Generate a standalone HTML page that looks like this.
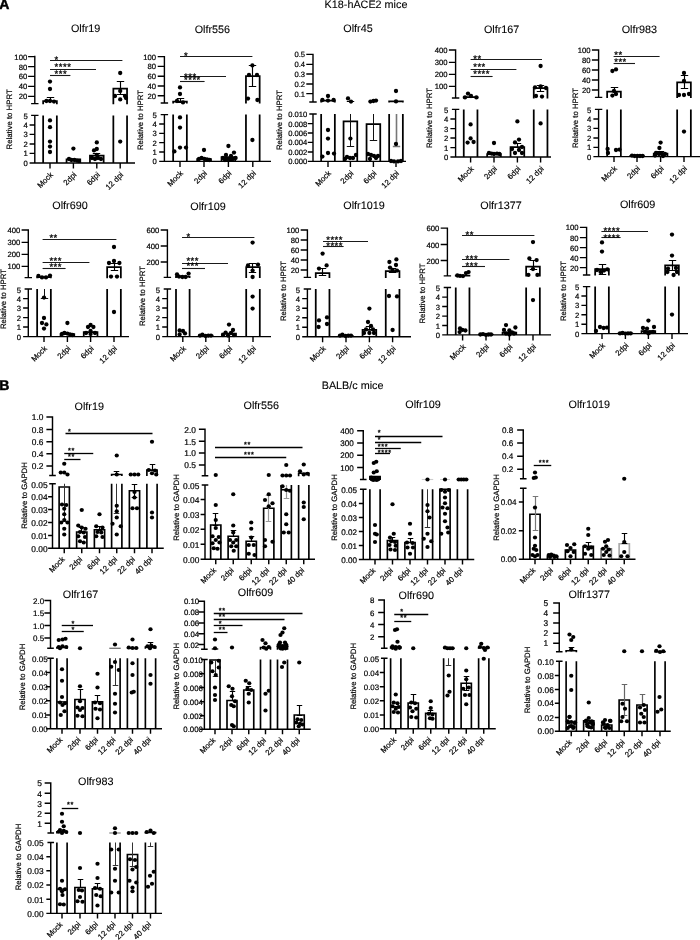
<!DOCTYPE html>
<html lang="en"><head><meta charset="utf-8"><title>Figure</title>
<style>
html,body{margin:0;padding:0;background:#fff;}
body{width:700px;height:940px;overflow:hidden;}
svg{display:block;font-family:"Liberation Sans",sans-serif;}
text{fill:#000;stroke:#000;stroke-width:0.2px;text-rendering:geometricPrecision}
.ax{stroke:#000;stroke-width:1.4;fill:none;stroke-linecap:butt}
.bar{stroke:#000;stroke-width:1.75;fill:none}
.err{stroke:#000;stroke-width:1.15;fill:none}
.err2{stroke:#111;stroke-width:1;fill:none}
.b .err2{stroke:#333;stroke-width:1}
.b .sig{stroke:#000;stroke-width:1.3}
.sig{stroke:#1a1a1a;stroke-width:1.1;fill:none}
.dot{fill:#000}
.tl{font-size:7.7px;text-anchor:end}
.b .tl{font-size:8.5px}
.b .bar{stroke-width:1.65}
.b .ax{stroke-width:1.45}
.xl{font-size:7.8px;text-anchor:end}
.yl{font-size:7.8px;text-anchor:middle}
.ti{font-size:10.8px;text-anchor:middle;stroke-width:0.1px}
.st{text-anchor:start;stroke-width:0.25px}
.b .st{stroke-width:0.3px}
.hd{font-size:10.8px;text-anchor:middle;stroke-width:0.1px}
.pl{font-size:14px;font-weight:bold;stroke:#000;stroke-width:0.5px}
</style></head><body>
<svg width="700" height="940" viewBox="0 0 700 940">
<rect width="700" height="940" fill="#fff"/>
<text class="pl" x="-0.8" y="9">A</text>
<text class="pl" x="-0.7" y="389.6">B</text>
<text class="hd" x="366" y="8.3">K18-hACE2 mice</text>
<text class="hd" x="352.6" y="388.8">BALB/c mice</text>
<g id="A1" class="a">
<text class="ti" x="85.6" y="32.4">Olfr19</text>
<text class="yl" transform="translate(9.6 119.4) rotate(-90)" y="2.8">Relative to HPRT</text>
<path class="bar" d="M43.15 163 V115.4 M56.85 163 V115.4"/>
<path class="bar" d="M43.15 104.2 V101 H56.85 V104.2"/>
<path class="bar" d="M66.55 163 V159.4 H80.25 V163"/>
<path class="bar" d="M89.95 163 V155.6 H103.65 V163"/>
<path class="bar" d="M113.35 163 V115.4 M127.05 163 V115.4"/>
<path class="bar" d="M113.35 104.2 V88.6 H127.05 V104.2"/>
<path class="err" d="M50.5 97 V101 M46.8 97.5 H54.2 M46.8 101.5 H54.2"/>
<path class="err" d="M96.5 153 V155 M92.8 153.5 H100.2 M92.8 155.5 H100.2"/>
<path class="err" d="M120.5 81.6 V94 M116.8 81.5 H124.2 M116.8 94.5 H124.2"/>
<path class="ax" d="M34.8 55.75 V103.6 M34.8 115.4 V163 M28.1 56.6 H34.8 M28.1 66.6 H34.8 M28.1 76.4 H34.8 M28.1 86.4 H34.8 M28.1 96.4 H34.8 M29.6 125 H34.8 M29.6 134.4 H34.8 M29.6 144 H34.8 M29.6 153.4 H34.8 M29.6 163 H34.8 M31.1 103.6 H38.5 M31.1 115.4 H38.5 M29.6 163 H135 M50 163 V168.5 M73.4 163 V168.5 M96.8 163 V168.5 M120.2 163 V168.5"/>
<text class="tl" style="font-size:7.7px" x="27.2" y="59.6">100</text>
<text class="tl" style="font-size:7.7px" x="27.2" y="69.6">80</text>
<text class="tl" style="font-size:7.7px" x="27.2" y="79.4">60</text>
<text class="tl" style="font-size:7.7px" x="27.2" y="89.4">40</text>
<text class="tl" style="font-size:7.7px" x="27.2" y="99.4">20</text>
<text class="tl" style="font-size:7.7px" x="27.7" y="119">5</text>
<text class="tl" style="font-size:7.7px" x="27.7" y="128">4</text>
<text class="tl" style="font-size:7.7px" x="27.7" y="137.4">3</text>
<text class="tl" style="font-size:7.7px" x="27.7" y="147">2</text>
<text class="tl" style="font-size:7.7px" x="27.7" y="156.4">1</text>
<text class="tl" style="font-size:7.7px" x="27.7" y="166">0</text>
<text class="xl" transform="translate(53.6 175.3) rotate(-45)">Mock</text>
<text class="xl" transform="translate(77 175.3) rotate(-45)">2dpi</text>
<text class="xl" transform="translate(100.4 175.3) rotate(-45)">6dpi</text>
<text class="xl" transform="translate(123.8 175.3) rotate(-45)">12 dpi</text>
<path class="sig" d="M50 60.5 H122.4"/>
<text class="st" style="font-size:9.5px;letter-spacing:0.5px" x="54.59" y="62.74">*</text>
<path class="sig" d="M50 69.5 H96"/>
<text class="st" style="font-size:9.5px;letter-spacing:0.5px" x="54.59" y="69.94">****</text>
<path class="sig" d="M50 75.5 H70.4"/>
<text class="st" style="font-size:9.5px;letter-spacing:0.5px" x="54.59" y="76.94">***</text>
<circle class="dot" cx="50" cy="81.6" r="2.15"/>
<circle class="dot" cx="50" cy="89" r="2.15"/>
<circle class="dot" cx="46.4" cy="101" r="2.15"/>
<circle class="dot" cx="50" cy="101" r="2.15"/>
<circle class="dot" cx="54" cy="101.6" r="2.15"/>
<circle class="dot" cx="50" cy="120.4" r="2.15"/>
<circle class="dot" cx="50" cy="127.2" r="2.15"/>
<circle class="dot" cx="50" cy="141.6" r="2.15"/>
<circle class="dot" cx="50" cy="146.6" r="2.15"/>
<circle class="dot" cx="50" cy="152" r="2.15"/>
<circle class="dot" cx="73.4" cy="148.6" r="2.15"/>
<circle class="dot" cx="69" cy="159" r="2.15"/>
<circle class="dot" cx="71.4" cy="160" r="2.15"/>
<circle class="dot" cx="74.4" cy="160" r="2.15"/>
<circle class="dot" cx="77" cy="160.6" r="2.15"/>
<circle class="dot" cx="79" cy="161" r="2.15"/>
<circle class="dot" cx="96.8" cy="142.4" r="2.15"/>
<circle class="dot" cx="96.8" cy="149" r="2.15"/>
<circle class="dot" cx="94" cy="150.4" r="2.15"/>
<circle class="dot" cx="92" cy="158" r="2.15"/>
<circle class="dot" cx="95" cy="159" r="2.15"/>
<circle class="dot" cx="98" cy="158" r="2.15"/>
<circle class="dot" cx="101" cy="159" r="2.15"/>
<circle class="dot" cx="96.8" cy="155" r="2.15"/>
<circle class="dot" cx="120.2" cy="73" r="2.15"/>
<circle class="dot" cx="120.2" cy="91" r="2.15"/>
<circle class="dot" cx="115" cy="96" r="2.15"/>
<circle class="dot" cx="125" cy="96" r="2.15"/>
<circle class="dot" cx="120.2" cy="99.4" r="2.15"/>
<circle class="dot" cx="126" cy="98" r="2.15"/>
<circle class="dot" cx="120.2" cy="141.6" r="2.15"/>
</g>
<g id="A2" class="a">
<text class="ti" x="212.4" y="33">Olfr556</text>
<text class="yl" transform="translate(140.2 120) rotate(-90)" y="2.8">Relative to HPRT</text>
<path class="bar" d="M173.15 161.4 V114.6 M186.85 161.4 V114.6"/>
<path class="bar" d="M173.15 103.6 V101.6 H186.85 V103.6"/>
<path class="bar" d="M197.15 161.4 V159 H210.85 V161.4"/>
<path class="bar" d="M221.55 161.4 V157 H235.25 V161.4"/>
<path class="bar" d="M245.95 161.4 V114.6 M259.65 161.4 V114.6"/>
<path class="bar" d="M245.95 103.6 V76 H259.65 V103.6"/>
<path class="err" d="M180.5 98.6 V102 M176.8 98.5 H184.2 M176.8 102.5 H184.2"/>
<path class="err" d="M252.5 65.4 V86.4 M248.8 65.5 H256.2 M248.8 86.5 H256.2"/>
<path class="ax" d="M164.4 55.95 V103 M164.4 114.6 V161.4 M157.7 56.6 H164.4 M157.7 66.4 H164.4 M157.7 76.2 H164.4 M157.7 86 H164.4 M157.7 95.8 H164.4 M159.2 124 H164.4 M159.2 133.4 H164.4 M159.2 142.6 H164.4 M159.2 152 H164.4 M159.2 161.4 H164.4 M160.7 103 H168.1 M160.7 114.6 H168.1 M159.2 161.4 H271 M180 161.4 V166.9 M204 161.4 V166.9 M228.4 161.4 V166.9 M252.8 161.4 V166.9"/>
<text class="tl" style="font-size:7.7px" x="156" y="59.6">100</text>
<text class="tl" style="font-size:7.7px" x="156" y="69.4">80</text>
<text class="tl" style="font-size:7.7px" x="156" y="79.2">60</text>
<text class="tl" style="font-size:7.7px" x="156" y="89">40</text>
<text class="tl" style="font-size:7.7px" x="156" y="98.8">20</text>
<text class="tl" style="font-size:7.7px" x="156.8" y="118.2">5</text>
<text class="tl" style="font-size:7.7px" x="156.8" y="127">4</text>
<text class="tl" style="font-size:7.7px" x="156.8" y="136.4">3</text>
<text class="tl" style="font-size:7.7px" x="156.8" y="145.6">2</text>
<text class="tl" style="font-size:7.7px" x="156.8" y="155">1</text>
<text class="tl" style="font-size:7.7px" x="156.8" y="164.4">0</text>
<text class="xl" transform="translate(183.6 173.7) rotate(-45)">Mock</text>
<text class="xl" transform="translate(207.6 173.7) rotate(-45)">2dpi</text>
<text class="xl" transform="translate(232 173.7) rotate(-45)">6dpi</text>
<text class="xl" transform="translate(256.4 173.7) rotate(-45)">12 dpi</text>
<path class="sig" d="M180 56.5 H252.4"/>
<text class="st" style="font-size:9.5px;letter-spacing:0.5px" x="184" y="58.54">*</text>
<path class="sig" d="M180 76.5 H226"/>
<text class="st" style="font-size:9.5px;letter-spacing:0.5px" x="184" y="80.04">***</text>
<path class="sig" d="M180 81.5 H204.6"/>
<text class="st" style="font-size:9.5px;letter-spacing:0.5px" x="184" y="83.34">****</text>
<circle class="dot" cx="180" cy="87.4" r="2.15"/>
<circle class="dot" cx="180" cy="94" r="2.15"/>
<circle class="dot" cx="177" cy="101" r="2.15"/>
<circle class="dot" cx="183" cy="102.4" r="2.15"/>
<circle class="dot" cx="180" cy="117.4" r="2.15"/>
<circle class="dot" cx="180" cy="127.6" r="2.15"/>
<circle class="dot" cx="174.4" cy="151.4" r="2.15"/>
<circle class="dot" cx="180" cy="147.6" r="2.15"/>
<circle class="dot" cx="186" cy="147.6" r="2.15"/>
<circle class="dot" cx="204" cy="150" r="2.15"/>
<circle class="dot" cx="199" cy="159" r="2.15"/>
<circle class="dot" cx="201.6" cy="158" r="2.15"/>
<circle class="dot" cx="204.4" cy="159" r="2.15"/>
<circle class="dot" cx="207" cy="159.4" r="2.15"/>
<circle class="dot" cx="209.6" cy="160" r="2.15"/>
<circle class="dot" cx="228.4" cy="146" r="2.15"/>
<circle class="dot" cx="234" cy="152.6" r="2.15"/>
<circle class="dot" cx="226" cy="155" r="2.15"/>
<circle class="dot" cx="231" cy="156" r="2.15"/>
<circle class="dot" cx="223" cy="158" r="2.15"/>
<circle class="dot" cx="228" cy="159" r="2.15"/>
<circle class="dot" cx="233" cy="159" r="2.15"/>
<circle class="dot" cx="225" cy="160" r="2.15"/>
<circle class="dot" cx="230.6" cy="159.6" r="2.15"/>
<circle class="dot" cx="235.6" cy="158" r="2.15"/>
<circle class="dot" cx="252.4" cy="65.4" r="2.15"/>
<circle class="dot" cx="249" cy="75" r="2.15"/>
<circle class="dot" cx="257" cy="75" r="2.15"/>
<circle class="dot" cx="248" cy="98.6" r="2.15"/>
<circle class="dot" cx="257.4" cy="100" r="2.15"/>
<circle class="dot" cx="252.4" cy="140" r="2.15"/>
</g>
<g id="A3" class="a">
<text class="ti" x="358" y="32.4">Olfr45</text>
<text class="yl" transform="translate(279.6 120) rotate(-90)" y="2.8">Relative to HPRT</text>
<path class="bar" d="M321.15 161.4 V114 M334.85 161.4 V114"/>
<path class="bar" d="M321.15 102.6 V100.6 H334.85 V102.6"/>
<path class="bar" d="M343.55 161.4 V121.4 H357.25 V161.4"/>
<path class="bar" d="M366.55 161.4 V124 H380.25 V161.4"/>
<path class="bar" d="M389.15 161.4 V114 M402.85 161.4 V114"/>
<path class="bar" d="M389.15 102.6 V101.4 H402.85 V102.6"/>
<path class="err2" d="M350.5 114 V146.4 M346.8 146.5 H354.2"/>
<path class="err2" d="M373.5 114 V140.6 M369.8 140.5 H377.2"/>
<path class="err2" style="stroke:#777;stroke-width:1.6" d="M396.5 114 V146.4 M392.8 146.5 H400.2"/>
<path class="err" d="M350.5 101 V102 M346.8 101.5 H354.2"/>
<path class="ax" d="M313 53.75 V102 M313 114 V161.4 M306.3 54.4 H313 M306.3 64.4 H313 M306.3 74 H313 M306.3 84 H313 M306.3 93.6 H313 M307.8 123.6 H313 M307.8 133 H313 M307.8 142.4 H313 M307.8 152 H313 M307.8 161.4 H313 M309.3 102 H316.7 M309.3 114 H316.7 M307.8 161.4 H406 M328 161.4 V166.9 M350.4 161.4 V166.9 M373.4 161.4 V166.9 M396 161.4 V166.9"/>
<text class="tl" style="font-size:7.6px" x="305" y="57.36">0.5</text>
<text class="tl" style="font-size:7.6px" x="305" y="67.36">0.4</text>
<text class="tl" style="font-size:7.6px" x="305" y="76.96">0.3</text>
<text class="tl" style="font-size:7.6px" x="305" y="86.96">0.2</text>
<text class="tl" style="font-size:7.6px" x="305" y="96.56">0.1</text>
<text class="tl" style="font-size:7.6px" x="307.2" y="116.76">0.010</text>
<text class="tl" style="font-size:7.6px" x="307.2" y="126.56">0.008</text>
<text class="tl" style="font-size:7.6px" x="307.2" y="135.96">0.006</text>
<text class="tl" style="font-size:7.6px" x="307.2" y="145.36">0.004</text>
<text class="tl" style="font-size:7.6px" x="307.2" y="154.96">0.002</text>
<text class="tl" style="font-size:7.6px" x="307.2" y="164.36">0.000</text>
<text class="xl" transform="translate(331.6 173.7) rotate(-45)">Mock</text>
<text class="xl" transform="translate(354 173.7) rotate(-45)">2dpi</text>
<text class="xl" transform="translate(377 173.7) rotate(-45)">6dpi</text>
<text class="xl" transform="translate(399.6 173.7) rotate(-45)">12 dpi</text>
<circle class="dot" cx="328" cy="96" r="2.15"/>
<circle class="dot" cx="322.4" cy="100" r="2.15"/>
<circle class="dot" cx="328" cy="100.6" r="2.15"/>
<circle class="dot" cx="333.6" cy="100" r="2.15"/>
<circle class="dot" cx="328" cy="130" r="2.15"/>
<circle class="dot" cx="328" cy="138.6" r="2.15"/>
<circle class="dot" cx="328" cy="153" r="2.15"/>
<circle class="dot" cx="322.4" cy="156.6" r="2.15"/>
<circle class="dot" cx="334" cy="153.6" r="2.15"/>
<circle class="dot" cx="348" cy="98.4" r="2.15"/>
<circle class="dot" cx="351" cy="101.6" r="2.15"/>
<circle class="dot" cx="350.4" cy="138.6" r="2.15"/>
<circle class="dot" cx="347" cy="157" r="2.15"/>
<circle class="dot" cx="350" cy="158" r="2.15"/>
<circle class="dot" cx="353" cy="158" r="2.15"/>
<circle class="dot" cx="356" cy="155" r="2.15"/>
<circle class="dot" cx="345" cy="159" r="2.15"/>
<circle class="dot" cx="370.4" cy="101.6" r="2.15"/>
<circle class="dot" cx="373.4" cy="101" r="2.15"/>
<circle class="dot" cx="376" cy="100.6" r="2.15"/>
<circle class="dot" cx="368" cy="154" r="2.15"/>
<circle class="dot" cx="371" cy="155" r="2.15"/>
<circle class="dot" cx="374" cy="156" r="2.15"/>
<circle class="dot" cx="378" cy="156" r="2.15"/>
<circle class="dot" cx="376" cy="158" r="2.15"/>
<circle class="dot" cx="370" cy="159" r="2.15"/>
<circle class="dot" cx="396" cy="91" r="2.15"/>
<circle class="dot" cx="396" cy="101.4" r="2.15"/>
<circle class="dot" cx="396" cy="144" r="2.15"/>
<circle class="dot" cx="391" cy="161" r="2.15"/>
<circle class="dot" cx="394" cy="161.4" r="2.15"/>
<circle class="dot" cx="398" cy="161.4" r="2.15"/>
<circle class="dot" cx="401" cy="161" r="2.15"/>
</g>
<g id="A4" class="a">
<text class="ti" x="501.6" y="33">Olfr167</text>
<text class="yl" transform="translate(429 118) rotate(-90)" y="2.8">Relative to HPRT</text>
<path class="bar" d="M463.75 157 V109.4 M477.45 157 V109.4"/>
<path class="bar" d="M463.75 98.6 V97 H477.45 V98.6"/>
<path class="bar" d="M487.15 157 V154 H500.85 V157"/>
<path class="bar" d="M510.55 157 V147 H524.25 V157"/>
<path class="bar" d="M533.75 157 V109.4 M547.45 157 V109.4"/>
<path class="bar" d="M533.75 98.6 V88 H547.45 V98.6"/>
<path class="err" d="M517.5 143 V147 M513.8 143.5 H521.2 M513.8 147.5 H521.2"/>
<path class="err" d="M540.5 85 V91 M536.8 85.5 H544.2 M536.8 91.5 H544.2"/>
<path class="ax" d="M455.6 49.35 V98 M455.6 109.4 V157 M448.9 50 H455.6 M448.9 62.4 H455.6 M448.9 74.4 H455.6 M448.9 86.4 H455.6 M450.4 119 H455.6 M450.4 128.6 H455.6 M450.4 138 H455.6 M450.4 147.6 H455.6 M450.4 157 H455.6 M451.9 98 H459.3 M451.9 109.4 H459.3 M450.4 157 H551 M470.6 157 V162.5 M494 157 V162.5 M517.4 157 V162.5 M540.6 157 V162.5"/>
<text class="tl" style="font-size:7.7px" x="447.6" y="53">400</text>
<text class="tl" style="font-size:7.7px" x="447.6" y="65.4">300</text>
<text class="tl" style="font-size:7.7px" x="447.6" y="77.4">200</text>
<text class="tl" style="font-size:7.7px" x="447.6" y="89.4">100</text>
<text class="tl" style="font-size:7.7px" x="448.3" y="113">5</text>
<text class="tl" style="font-size:7.7px" x="448.3" y="122">4</text>
<text class="tl" style="font-size:7.7px" x="448.3" y="131.6">3</text>
<text class="tl" style="font-size:7.7px" x="448.3" y="141">2</text>
<text class="tl" style="font-size:7.7px" x="448.3" y="150.6">1</text>
<text class="tl" style="font-size:7.7px" x="448.3" y="160">0</text>
<text class="xl" transform="translate(474.2 169.3) rotate(-45)">Mock</text>
<text class="xl" transform="translate(497.6 169.3) rotate(-45)">2dpi</text>
<text class="xl" transform="translate(521 169.3) rotate(-45)">6dpi</text>
<text class="xl" transform="translate(544.2 169.3) rotate(-45)">12 dpi</text>
<path class="sig" d="M470.6 59.5 H542"/>
<text class="st" style="font-size:9.5px;letter-spacing:0.5px" x="473.19" y="61.74">**</text>
<path class="sig" d="M470.6 69.5 H516.4"/>
<text class="st" style="font-size:9.5px;letter-spacing:0.5px" x="473.19" y="69.74">***</text>
<path class="sig" d="M470.6 76.5 H492.6"/>
<text class="st" style="font-size:9.5px;letter-spacing:0.5px" x="473.19" y="76.54">****</text>
<circle class="dot" cx="468" cy="93.6" r="2.15"/>
<circle class="dot" cx="465" cy="97.4" r="2.15"/>
<circle class="dot" cx="471" cy="96" r="2.15"/>
<circle class="dot" cx="476.4" cy="97.4" r="2.15"/>
<circle class="dot" cx="470.6" cy="124.4" r="2.15"/>
<circle class="dot" cx="470.6" cy="138.4" r="2.15"/>
<circle class="dot" cx="467.6" cy="142.6" r="2.15"/>
<circle class="dot" cx="473.6" cy="142" r="2.15"/>
<circle class="dot" cx="494" cy="143" r="2.15"/>
<circle class="dot" cx="489" cy="153" r="2.15"/>
<circle class="dot" cx="491.6" cy="153.6" r="2.15"/>
<circle class="dot" cx="494" cy="154" r="2.15"/>
<circle class="dot" cx="497" cy="153.6" r="2.15"/>
<circle class="dot" cx="499.4" cy="154" r="2.15"/>
<circle class="dot" cx="517.4" cy="121.4" r="2.15"/>
<circle class="dot" cx="519" cy="139.6" r="2.15"/>
<circle class="dot" cx="515" cy="142.4" r="2.15"/>
<circle class="dot" cx="522" cy="147" r="2.15"/>
<circle class="dot" cx="512" cy="149" r="2.15"/>
<circle class="dot" cx="519" cy="150" r="2.15"/>
<circle class="dot" cx="515" cy="153" r="2.15"/>
<circle class="dot" cx="522" cy="153" r="2.15"/>
<circle class="dot" cx="540.6" cy="66" r="2.15"/>
<circle class="dot" cx="535" cy="87.4" r="2.15"/>
<circle class="dot" cx="540.6" cy="86.4" r="2.15"/>
<circle class="dot" cx="546" cy="88" r="2.15"/>
<circle class="dot" cx="536" cy="96" r="2.15"/>
<circle class="dot" cx="542" cy="96.6" r="2.15"/>
<circle class="dot" cx="540.6" cy="123.4" r="2.15"/>
</g>
<g id="A5" class="a">
<text class="ti" x="639.4" y="33">Olfr983</text>
<text class="yl" transform="translate(575 118) rotate(-90)" y="2.8">Relative to HPRT</text>
<path class="bar" d="M607.15 156.6 V109.4 M620.85 156.6 V109.4"/>
<path class="bar" d="M607.15 98 V91.6 H620.85 V98"/>
<path class="bar" d="M630.15 156.6 V156 H643.85 V156.6"/>
<path class="bar" d="M653.75 156.6 V153.6 H667.45 V156.6"/>
<path class="bar" d="M677.15 156.6 V109.4 M690.85 156.6 V109.4"/>
<path class="bar" d="M677.15 98 V82.4 H690.85 V98"/>
<path class="err" d="M614.5 87 V91.6 M610.8 87.5 H618.2 M610.8 91.5 H618.2"/>
<path class="err" d="M660.5 151 V153.6 M656.8 151.5 H664.2 M656.8 153.5 H664.2"/>
<path class="err" d="M684.5 75.4 V88 M680.8 75.5 H688.2 M680.8 88.5 H688.2"/>
<path class="ax" d="M598.6 49.35 V97.4 M598.6 109.4 V156.6 M591.9 50 H598.6 M591.9 60 H598.6 M591.9 70 H598.6 M591.9 80 H598.6 M591.9 90 H598.6 M593.4 119 H598.6 M593.4 128.4 H598.6 M593.4 138 H598.6 M593.4 147.4 H598.6 M593.4 156.6 H598.6 M594.9 97.4 H602.3 M594.9 109.4 H602.3 M593.4 156.6 H701 M614 156.6 V162.1 M637 156.6 V162.1 M660.6 156.6 V162.1 M684 156.6 V162.1"/>
<text class="tl" style="font-size:7.7px" x="590.6" y="53">100</text>
<text class="tl" style="font-size:7.7px" x="590.6" y="63">80</text>
<text class="tl" style="font-size:7.7px" x="590.6" y="73">60</text>
<text class="tl" style="font-size:7.7px" x="590.6" y="83">40</text>
<text class="tl" style="font-size:7.7px" x="590.6" y="93">20</text>
<text class="tl" style="font-size:7.7px" x="591.3" y="113">5</text>
<text class="tl" style="font-size:7.7px" x="591.3" y="122">4</text>
<text class="tl" style="font-size:7.7px" x="591.3" y="131.4">3</text>
<text class="tl" style="font-size:7.7px" x="591.3" y="141">2</text>
<text class="tl" style="font-size:7.7px" x="591.3" y="150.4">1</text>
<text class="tl" style="font-size:7.7px" x="591.3" y="159.6">0</text>
<text class="xl" transform="translate(617.6 168.9) rotate(-45)">Mock</text>
<text class="xl" transform="translate(640.6 168.9) rotate(-45)">2dpi</text>
<text class="xl" transform="translate(664.2 168.9) rotate(-45)">6dpi</text>
<text class="xl" transform="translate(687.6 168.9) rotate(-45)">12 dpi</text>
<path class="sig" d="M613.6 56.5 H659.6"/>
<text class="st" style="font-size:9.5px;letter-spacing:0.5px" x="614.2" y="57.94">**</text>
<path class="sig" d="M613.6 63.5 H635"/>
<text class="st" style="font-size:9.5px;letter-spacing:0.5px" x="614.2" y="64.94">***</text>
<circle class="dot" cx="612.4" cy="71" r="2.15"/>
<circle class="dot" cx="616" cy="69.4" r="2.15"/>
<circle class="dot" cx="614" cy="91" r="2.15"/>
<circle class="dot" cx="612.4" cy="95.6" r="2.15"/>
<circle class="dot" cx="616" cy="94" r="2.15"/>
<circle class="dot" cx="607.6" cy="149" r="2.15"/>
<circle class="dot" cx="608" cy="153" r="2.15"/>
<circle class="dot" cx="616" cy="150" r="2.15"/>
<circle class="dot" cx="619.4" cy="149.6" r="2.15"/>
<circle class="dot" cx="632" cy="155.6" r="2.15"/>
<circle class="dot" cx="634.6" cy="156" r="2.15"/>
<circle class="dot" cx="637.4" cy="156" r="2.15"/>
<circle class="dot" cx="640" cy="156" r="2.15"/>
<circle class="dot" cx="642.6" cy="156" r="2.15"/>
<circle class="dot" cx="660.6" cy="142.6" r="2.15"/>
<circle class="dot" cx="659.4" cy="148" r="2.15"/>
<circle class="dot" cx="656" cy="153" r="2.15"/>
<circle class="dot" cx="659" cy="154" r="2.15"/>
<circle class="dot" cx="662" cy="154" r="2.15"/>
<circle class="dot" cx="665" cy="154" r="2.15"/>
<circle class="dot" cx="655" cy="155.6" r="2.15"/>
<circle class="dot" cx="663" cy="156" r="2.15"/>
<circle class="dot" cx="684" cy="73" r="2.15"/>
<circle class="dot" cx="684" cy="81" r="2.15"/>
<circle class="dot" cx="679" cy="95" r="2.15"/>
<circle class="dot" cx="684" cy="95" r="2.15"/>
<circle class="dot" cx="689" cy="94" r="2.15"/>
<circle class="dot" cx="684" cy="131.6" r="2.15"/>
</g>
<g id="A6" class="a">
<text class="ti" x="70" y="208.6">Olfr690</text>
<text class="yl" transform="translate(3.6 299) rotate(-90)" y="2.8">Relative to HPRT</text>
<path class="bar" d="M37.15 336.6 V289 M50.85 336.6 V289"/>
<path class="bar" d="M37.15 278.2 V277 H50.85 V278.2"/>
<path class="bar" d="M60.55 336.6 V334 H74.25 V336.6"/>
<path class="bar" d="M83.75 336.6 V332 H97.45 V336.6"/>
<path class="bar" d="M107.15 336.6 V289 M120.85 336.6 V289"/>
<path class="bar" d="M107.15 278.2 V267 H120.85 V278.2"/>
<path class="err2" d="M44.5 289 V298 M40.8 298.5 H48.2"/>
<path class="err" d="M114.5 263 V270.4 M110.8 263.5 H118.2 M110.8 270.5 H118.2"/>
<path class="ax" d="M28.3 229.35 V277.6 M28.3 289 V336.6 M21.6 230 H28.3 M21.6 242.4 H28.3 M21.6 254.4 H28.3 M21.6 266.4 H28.3 M23.1 298.6 H28.3 M23.1 308 H28.3 M23.1 317.6 H28.3 M23.1 327 H28.3 M23.1 336.6 H28.3 M24.6 277.6 H32 M24.6 289 H32 M23.1 336.6 H129 M44 336.6 V342.1 M67.4 336.6 V342.1 M90.6 336.6 V342.1 M114 336.6 V342.1"/>
<text class="tl" style="font-size:7.7px" x="20.3" y="233">400</text>
<text class="tl" style="font-size:7.7px" x="20.3" y="245.4">300</text>
<text class="tl" style="font-size:7.7px" x="20.3" y="257.4">200</text>
<text class="tl" style="font-size:7.7px" x="20.3" y="269.4">100</text>
<text class="tl" style="font-size:7.7px" x="21" y="292.6">5</text>
<text class="tl" style="font-size:7.7px" x="21" y="301.6">4</text>
<text class="tl" style="font-size:7.7px" x="21" y="311">3</text>
<text class="tl" style="font-size:7.7px" x="21" y="320.6">2</text>
<text class="tl" style="font-size:7.7px" x="21" y="330">1</text>
<text class="tl" style="font-size:7.7px" x="21" y="339.6">0</text>
<text class="xl" transform="translate(47.6 348.9) rotate(-45)">Mock</text>
<text class="xl" transform="translate(71 348.9) rotate(-45)">2dpi</text>
<text class="xl" transform="translate(94.2 348.9) rotate(-45)">6dpi</text>
<text class="xl" transform="translate(117.6 348.9) rotate(-45)">12 dpi</text>
<path class="sig" d="M42.6 239.5 H116.4"/>
<text class="st" style="font-size:9.5px;letter-spacing:0.5px" x="49.4" y="241.34">**</text>
<path class="sig" d="M42.6 262.5 H89.4"/>
<text class="st" style="font-size:9.5px;letter-spacing:0.5px" x="49.4" y="263.94">***</text>
<path class="sig" d="M42.6 268.5 H65.6"/>
<text class="st" style="font-size:9.5px;letter-spacing:0.5px" x="49.4" y="270.34">***</text>
<circle class="dot" cx="38.4" cy="276" r="2.15"/>
<circle class="dot" cx="42" cy="277.4" r="2.15"/>
<circle class="dot" cx="46" cy="277.4" r="2.15"/>
<circle class="dot" cx="50" cy="275.6" r="2.15"/>
<circle class="dot" cx="44" cy="297.6" r="2.15"/>
<circle class="dot" cx="44" cy="318" r="2.15"/>
<circle class="dot" cx="42" cy="323" r="2.15"/>
<circle class="dot" cx="46.4" cy="324.4" r="2.15"/>
<circle class="dot" cx="44" cy="328.6" r="2.15"/>
<circle class="dot" cx="67.4" cy="323" r="2.15"/>
<circle class="dot" cx="62" cy="334" r="2.15"/>
<circle class="dot" cx="64.4" cy="333" r="2.15"/>
<circle class="dot" cx="67.4" cy="333.6" r="2.15"/>
<circle class="dot" cx="70" cy="334.4" r="2.15"/>
<circle class="dot" cx="72.4" cy="335" r="2.15"/>
<circle class="dot" cx="90.6" cy="325" r="2.15"/>
<circle class="dot" cx="88" cy="327" r="2.15"/>
<circle class="dot" cx="93.4" cy="327" r="2.15"/>
<circle class="dot" cx="90.6" cy="331" r="2.15"/>
<circle class="dot" cx="86" cy="333" r="2.15"/>
<circle class="dot" cx="95" cy="333" r="2.15"/>
<circle class="dot" cx="90.6" cy="334" r="2.15"/>
<circle class="dot" cx="114" cy="247" r="2.15"/>
<circle class="dot" cx="114" cy="261" r="2.15"/>
<circle class="dot" cx="109" cy="263" r="2.15"/>
<circle class="dot" cx="119.4" cy="263" r="2.15"/>
<circle class="dot" cx="111" cy="276.6" r="2.15"/>
<circle class="dot" cx="117" cy="276.6" r="2.15"/>
<circle class="dot" cx="114" cy="312" r="2.15"/>
</g>
<g id="A7" class="a">
<text class="ti" x="208" y="210">Olfr109</text>
<text class="yl" transform="translate(142 296) rotate(-90)" y="2.8">Relative to HPRT</text>
<path class="bar" d="M176 336.6 V289 M189.6 336.6 V289"/>
<path class="bar" d="M176 278 V276.6 H189.6 V278"/>
<path class="bar" d="M199 336.6 V335.6 H212.6 V336.6"/>
<path class="bar" d="M222.4 336.6 V333.6 H236 V336.6"/>
<path class="bar" d="M246.2 336.6 V289 M259.8 336.6 V289"/>
<path class="bar" d="M246.2 278 V267.2 H259.8 V278"/>
<path class="err" d="M252.5 263.4 V272 M248.83 263.5 H256.17 M248.83 272.5 H256.17"/>
<path class="ax" d="M167.4 229.35 V277.4 M167.4 289 V336.6 M160.7 230 H167.4 M160.7 246 H167.4 M160.7 262 H167.4 M162.2 298.6 H167.4 M162.2 308 H167.4 M162.2 317.6 H167.4 M162.2 327 H167.4 M162.2 336.6 H167.4 M163.7 277.4 H171.1 M163.7 289 H171.1 M162.2 336.6 H271 M182.8 336.6 V342.1 M205.8 336.6 V342.1 M229.2 336.6 V342.1 M253 336.6 V342.1"/>
<text class="tl" style="font-size:7.7px" x="159.4" y="233">600</text>
<text class="tl" style="font-size:7.7px" x="159.4" y="249">400</text>
<text class="tl" style="font-size:7.7px" x="159.4" y="265">200</text>
<text class="tl" style="font-size:7.7px" x="160.1" y="292.6">5</text>
<text class="tl" style="font-size:7.7px" x="160.1" y="301.6">4</text>
<text class="tl" style="font-size:7.7px" x="160.1" y="311">3</text>
<text class="tl" style="font-size:7.7px" x="160.1" y="320.6">2</text>
<text class="tl" style="font-size:7.7px" x="160.1" y="330">1</text>
<text class="tl" style="font-size:7.7px" x="160.1" y="339.6">0</text>
<text class="xl" transform="translate(186.4 348.9) rotate(-45)">Mock</text>
<text class="xl" transform="translate(209.4 348.9) rotate(-45)">2dpi</text>
<text class="xl" transform="translate(232.8 348.9) rotate(-45)">6dpi</text>
<text class="xl" transform="translate(256.6 348.9) rotate(-45)">12 dpi</text>
<path class="sig" d="M182 237.5 H254.4"/>
<text class="st" style="font-size:9.5px;letter-spacing:0.5px" x="186.39" y="239.74">*</text>
<path class="sig" d="M182 263.5 H228"/>
<text class="st" style="font-size:9.5px;letter-spacing:0.5px" x="186.39" y="263.94">***</text>
<path class="sig" d="M182 268.5 H205"/>
<text class="st" style="font-size:9.5px;letter-spacing:0.5px" x="186.39" y="269.34">***</text>
<circle class="dot" cx="177" cy="274.4" r="2.15"/>
<circle class="dot" cx="179" cy="276.6" r="2.15"/>
<circle class="dot" cx="182.4" cy="277" r="2.15"/>
<circle class="dot" cx="185.6" cy="277" r="2.15"/>
<circle class="dot" cx="188.6" cy="273.6" r="2.15"/>
<circle class="dot" cx="179.6" cy="330.4" r="2.15"/>
<circle class="dot" cx="183" cy="331" r="2.15"/>
<circle class="dot" cx="185" cy="333.4" r="2.15"/>
<circle class="dot" cx="179.6" cy="334.4" r="2.15"/>
<circle class="dot" cx="200" cy="335.6" r="2.15"/>
<circle class="dot" cx="202.4" cy="334.6" r="2.15"/>
<circle class="dot" cx="205.6" cy="336" r="2.15"/>
<circle class="dot" cx="208.4" cy="335.6" r="2.15"/>
<circle class="dot" cx="211" cy="335.6" r="2.15"/>
<circle class="dot" cx="229" cy="324.6" r="2.15"/>
<circle class="dot" cx="233" cy="330" r="2.15"/>
<circle class="dot" cx="225.6" cy="332.6" r="2.15"/>
<circle class="dot" cx="231" cy="333" r="2.15"/>
<circle class="dot" cx="223" cy="335" r="2.15"/>
<circle class="dot" cx="228" cy="335.6" r="2.15"/>
<circle class="dot" cx="234" cy="335" r="2.15"/>
<circle class="dot" cx="252.6" cy="242.6" r="2.15"/>
<circle class="dot" cx="248" cy="265.4" r="2.15"/>
<circle class="dot" cx="258" cy="264.6" r="2.15"/>
<circle class="dot" cx="252.6" cy="270.6" r="2.15"/>
<circle class="dot" cx="252.6" cy="277" r="2.15"/>
<circle class="dot" cx="252.6" cy="296.6" r="2.15"/>
<circle class="dot" cx="252.6" cy="308.6" r="2.15"/>
</g>
<g id="A8" class="a">
<text class="ti" x="364" y="209.4">Olfr1019</text>
<text class="yl" transform="translate(283 291) rotate(-90)" y="2.8">Relative to HPRT</text>
<path class="bar" d="M315.75 336.8 V289 M329.45 336.8 V289"/>
<path class="bar" d="M315.75 278 V273 H329.45 V278"/>
<path class="bar" d="M339.15 336.8 V336 H352.85 V336.8"/>
<path class="bar" d="M362.55 336.8 V329.8 H376.25 V336.8"/>
<path class="bar" d="M385.75 336.8 V289 M399.45 336.8 V289"/>
<path class="bar" d="M385.75 278 V271.2 H399.45 V278"/>
<path class="err" d="M322.5 268 V275.6 M318.8 268.5 H326.2 M318.8 275.5 H326.2"/>
<path class="err" d="M369.5 326 V329.4 M365.8 326.5 H373.2 M365.8 329.5 H373.2"/>
<path class="err" d="M392.5 268 V272 M388.8 268.5 H396.2 M388.8 272.5 H396.2"/>
<path class="ax" d="M307.4 229.35 V277.4 M307.4 289 V336.8 M300.7 230 H307.4 M300.7 240 H307.4 M300.7 250 H307.4 M300.7 260 H307.4 M300.7 270 H307.4 M302.2 298.6 H307.4 M302.2 308.2 H307.4 M302.2 317.8 H307.4 M302.2 327.2 H307.4 M302.2 336.8 H307.4 M303.7 277.4 H311.1 M303.7 289 H311.1 M302.2 336.8 H411 M322.6 336.8 V342.3 M346 336.8 V342.3 M369.4 336.8 V342.3 M392.6 336.8 V342.3"/>
<text class="tl" style="font-size:7.7px" x="299.4" y="233">100</text>
<text class="tl" style="font-size:7.7px" x="299.4" y="243">80</text>
<text class="tl" style="font-size:7.7px" x="299.4" y="253">60</text>
<text class="tl" style="font-size:7.7px" x="299.4" y="263">40</text>
<text class="tl" style="font-size:7.7px" x="299.4" y="273">20</text>
<text class="tl" style="font-size:7.7px" x="300.1" y="292.6">5</text>
<text class="tl" style="font-size:7.7px" x="300.1" y="301.6">4</text>
<text class="tl" style="font-size:7.7px" x="300.1" y="311.2">3</text>
<text class="tl" style="font-size:7.7px" x="300.1" y="320.8">2</text>
<text class="tl" style="font-size:7.7px" x="300.1" y="330.2">1</text>
<text class="tl" style="font-size:7.7px" x="300.1" y="339.8">0</text>
<text class="xl" transform="translate(326.2 349.1) rotate(-45)">Mock</text>
<text class="xl" transform="translate(349.6 349.1) rotate(-45)">2dpi</text>
<text class="xl" transform="translate(373 349.1) rotate(-45)">6dpi</text>
<text class="xl" transform="translate(396.2 349.1) rotate(-45)">12 dpi</text>
<path class="sig" d="M323 241.5 H368"/>
<text class="st" style="font-size:9.5px;letter-spacing:0.5px" x="326.19" y="243.34">****</text>
<path class="sig" d="M323 246.5 H343.6"/>
<text class="st" style="font-size:9.5px;letter-spacing:0.5px" x="326.19" y="248.54">****</text>
<circle class="dot" cx="322.6" cy="253.6" r="2.15"/>
<circle class="dot" cx="326.6" cy="265.4" r="2.15"/>
<circle class="dot" cx="319" cy="268.6" r="2.15"/>
<circle class="dot" cx="319" cy="320.4" r="2.15"/>
<circle class="dot" cx="327" cy="317.4" r="2.15"/>
<circle class="dot" cx="318.6" cy="327" r="2.15"/>
<circle class="dot" cx="327" cy="324" r="2.15"/>
<circle class="dot" cx="340" cy="335.6" r="2.15"/>
<circle class="dot" cx="342.4" cy="334.6" r="2.15"/>
<circle class="dot" cx="345.6" cy="336" r="2.15"/>
<circle class="dot" cx="348.4" cy="335.6" r="2.15"/>
<circle class="dot" cx="351" cy="335.6" r="2.15"/>
<circle class="dot" cx="369.4" cy="308.6" r="2.15"/>
<circle class="dot" cx="368" cy="322" r="2.15"/>
<circle class="dot" cx="371" cy="326" r="2.15"/>
<circle class="dot" cx="366" cy="329.4" r="2.15"/>
<circle class="dot" cx="373" cy="329.4" r="2.15"/>
<circle class="dot" cx="364" cy="333" r="2.15"/>
<circle class="dot" cx="369.4" cy="333" r="2.15"/>
<circle class="dot" cx="374" cy="333" r="2.15"/>
<circle class="dot" cx="389.4" cy="262" r="2.15"/>
<circle class="dot" cx="396.4" cy="259.4" r="2.15"/>
<circle class="dot" cx="390" cy="267.6" r="2.15"/>
<circle class="dot" cx="396" cy="265" r="2.15"/>
<circle class="dot" cx="392.6" cy="270" r="2.15"/>
<circle class="dot" cx="397" cy="270.6" r="2.15"/>
<circle class="dot" cx="389" cy="296" r="2.15"/>
<circle class="dot" cx="397" cy="296.4" r="2.15"/>
<circle class="dot" cx="392.6" cy="330" r="2.15"/>
</g>
<g id="A9" class="a">
<text class="ti" x="501" y="209.1">Olfr1377</text>
<text class="yl" transform="translate(422 293.5) rotate(-90)" y="2.8">Relative to HPRT</text>
<path class="bar" d="M455.75 334.9 V287.5 M469.45 334.9 V287.5"/>
<path class="bar" d="M455.75 276.5 V275.5 H469.45 V276.5"/>
<path class="bar" d="M479.15 334.9 V334.5 H492.85 V334.9"/>
<path class="bar" d="M502.55 334.9 V332.5 H516.25 V334.9"/>
<path class="bar" d="M526.15 334.9 V287.5 M539.85 334.9 V287.5"/>
<path class="bar" d="M526.15 276.5 V266.7 H539.85 V276.5"/>
<path class="err" d="M533.5 260.5 V269.5 M529.8 260.5 H537.2 M529.8 269.5 H537.2"/>
<path class="ax" d="M447.4 227.45 V275.9 M447.4 287.5 V334.9 M440.7 228.1 H447.4 M440.7 244.5 H447.4 M440.7 260.5 H447.4 M442.2 297.1 H447.4 M442.2 306.5 H447.4 M442.2 316.1 H447.4 M442.2 325.5 H447.4 M442.2 334.9 H447.4 M443.7 275.9 H451.1 M443.7 287.5 H451.1 M442.2 334.9 H551 M462.6 334.9 V340.4 M486 334.9 V340.4 M509.4 334.9 V340.4 M533 334.9 V340.4"/>
<text class="tl" style="font-size:7.7px" x="439.4" y="231.1">600</text>
<text class="tl" style="font-size:7.7px" x="439.4" y="247.5">400</text>
<text class="tl" style="font-size:7.7px" x="439.4" y="263.5">200</text>
<text class="tl" style="font-size:7.7px" x="440.1" y="291.1">5</text>
<text class="tl" style="font-size:7.7px" x="440.1" y="300.1">4</text>
<text class="tl" style="font-size:7.7px" x="440.1" y="309.5">3</text>
<text class="tl" style="font-size:7.7px" x="440.1" y="319.1">2</text>
<text class="tl" style="font-size:7.7px" x="440.1" y="328.5">1</text>
<text class="tl" style="font-size:7.7px" x="440.1" y="337.9">0</text>
<text class="xl" transform="translate(466.2 347.2) rotate(-45)">Mock</text>
<text class="xl" transform="translate(489.6 347.2) rotate(-45)">2dpi</text>
<text class="xl" transform="translate(513 347.2) rotate(-45)">6dpi</text>
<text class="xl" transform="translate(536.6 347.2) rotate(-45)">12 dpi</text>
<path class="sig" d="M462 235.5 H534.4"/>
<text class="st" style="font-size:9.5px;letter-spacing:0.5px" x="465.59" y="237.84">**</text>
<path class="sig" d="M462 259.5 H509.4"/>
<text class="st" style="font-size:9.5px;letter-spacing:0.5px" x="465.59" y="261.84">***</text>
<path class="sig" d="M462 266.5 H485"/>
<text class="st" style="font-size:9.5px;letter-spacing:0.5px" x="465.59" y="268.84">***</text>
<circle class="dot" cx="457.4" cy="275.5" r="2.15"/>
<circle class="dot" cx="460" cy="275.9" r="2.15"/>
<circle class="dot" cx="463" cy="276.1" r="2.15"/>
<circle class="dot" cx="466" cy="273.1" r="2.15"/>
<circle class="dot" cx="468.6" cy="272.1" r="2.15"/>
<circle class="dot" cx="460" cy="328.5" r="2.15"/>
<circle class="dot" cx="462.4" cy="329.9" r="2.15"/>
<circle class="dot" cx="465.4" cy="330.5" r="2.15"/>
<circle class="dot" cx="459.6" cy="332.1" r="2.15"/>
<circle class="dot" cx="480.4" cy="334.5" r="2.15"/>
<circle class="dot" cx="483" cy="334.1" r="2.15"/>
<circle class="dot" cx="486" cy="334.9" r="2.15"/>
<circle class="dot" cx="488.6" cy="334.5" r="2.15"/>
<circle class="dot" cx="491" cy="334.5" r="2.15"/>
<circle class="dot" cx="506" cy="325.1" r="2.15"/>
<circle class="dot" cx="515.4" cy="327.5" r="2.15"/>
<circle class="dot" cx="504" cy="329.9" r="2.15"/>
<circle class="dot" cx="509.4" cy="330.5" r="2.15"/>
<circle class="dot" cx="512" cy="332.5" r="2.15"/>
<circle class="dot" cx="506" cy="333.5" r="2.15"/>
<circle class="dot" cx="514" cy="333.5" r="2.15"/>
<circle class="dot" cx="509.4" cy="334.5" r="2.15"/>
<circle class="dot" cx="533" cy="242.1" r="2.15"/>
<circle class="dot" cx="529.4" cy="258.5" r="2.15"/>
<circle class="dot" cx="536.6" cy="260.1" r="2.15"/>
<circle class="dot" cx="533" cy="269.1" r="2.15"/>
<circle class="dot" cx="528.4" cy="274.9" r="2.15"/>
<circle class="dot" cx="537.4" cy="274.9" r="2.15"/>
<circle class="dot" cx="533" cy="300.1" r="2.15"/>
</g>
<g id="A10" class="a">
<text class="ti" x="637.6" y="208">Olfr609</text>
<text class="yl" transform="translate(563 291) rotate(-90)" y="2.8">Relative to HPRT</text>
<path class="bar" d="M595.15 333.6 V286.6 M608.85 333.6 V286.6"/>
<path class="bar" d="M595.15 275.6 V269 H608.85 V275.6"/>
<path class="bar" d="M618.55 333.6 V333.4 H632.25 V333.6"/>
<path class="bar" d="M641.55 333.6 V331 H655.25 V333.6"/>
<path class="bar" d="M665.15 333.6 V286.6 M678.85 333.6 V286.6"/>
<path class="bar" d="M665.15 275.6 V265.4 H678.85 V275.6"/>
<path class="err" d="M602.5 264 V274 M598.8 264.5 H606.2 M598.8 274.5 H606.2"/>
<path class="err" d="M672.5 260.4 V270 M668.8 260.5 H676.2 M668.8 270.5 H676.2"/>
<path class="ax" d="M586.6 226.75 V275 M586.6 286.6 V333.6 M579.9 227.4 H586.6 M579.9 237.6 H586.6 M579.9 247.6 H586.6 M579.9 257.6 H586.6 M579.9 267.6 H586.6 M581.4 296 H586.6 M581.4 305.4 H586.6 M581.4 314.8 H586.6 M581.4 324.2 H586.6 M581.4 333.6 H586.6 M582.9 275 H590.3 M582.9 286.6 H590.3 M581.4 333.6 H688 M602 333.6 V339.1 M625.4 333.6 V339.1 M648.4 333.6 V339.1 M672 333.6 V339.1"/>
<text class="tl" style="font-size:7.7px" x="578.6" y="230.4">100</text>
<text class="tl" style="font-size:7.7px" x="578.6" y="240.6">80</text>
<text class="tl" style="font-size:7.7px" x="578.6" y="250.6">60</text>
<text class="tl" style="font-size:7.7px" x="578.6" y="260.6">40</text>
<text class="tl" style="font-size:7.7px" x="578.6" y="270.6">20</text>
<text class="tl" style="font-size:7.7px" x="579.3" y="290.2">5</text>
<text class="tl" style="font-size:7.7px" x="579.3" y="299">4</text>
<text class="tl" style="font-size:7.7px" x="579.3" y="308.4">3</text>
<text class="tl" style="font-size:7.7px" x="579.3" y="317.8">2</text>
<text class="tl" style="font-size:7.7px" x="579.3" y="327.2">1</text>
<text class="tl" style="font-size:7.7px" x="579.3" y="336.6">0</text>
<text class="xl" transform="translate(605.6 345.9) rotate(-45)">Mock</text>
<text class="xl" transform="translate(629 345.9) rotate(-45)">2dpi</text>
<text class="xl" transform="translate(652 345.9) rotate(-45)">6dpi</text>
<text class="xl" transform="translate(675.6 345.9) rotate(-45)">12 dpi</text>
<path class="sig" d="M601.4 231.5 H648"/>
<text class="st" style="font-size:9.5px;letter-spacing:0.5px" x="603.4" y="233.54">****</text>
<path class="sig" d="M601.4 237.5 H620.6"/>
<text class="st" style="font-size:9.5px;letter-spacing:0.5px" x="603.4" y="240.64">****</text>
<circle class="dot" cx="602" cy="242.4" r="2.15"/>
<circle class="dot" cx="602" cy="251.6" r="2.15"/>
<circle class="dot" cx="597" cy="270" r="2.15"/>
<circle class="dot" cx="600.6" cy="272" r="2.15"/>
<circle class="dot" cx="604" cy="270.6" r="2.15"/>
<circle class="dot" cx="607.4" cy="269.4" r="2.15"/>
<circle class="dot" cx="596" cy="331" r="2.15"/>
<circle class="dot" cx="600" cy="327" r="2.15"/>
<circle class="dot" cx="603.6" cy="328" r="2.15"/>
<circle class="dot" cx="607" cy="327.6" r="2.15"/>
<circle class="dot" cx="620" cy="333.4" r="2.15"/>
<circle class="dot" cx="622.6" cy="333" r="2.15"/>
<circle class="dot" cx="625.4" cy="333.6" r="2.15"/>
<circle class="dot" cx="628" cy="333.4" r="2.15"/>
<circle class="dot" cx="630.6" cy="333.4" r="2.15"/>
<circle class="dot" cx="648.4" cy="320.6" r="2.15"/>
<circle class="dot" cx="654" cy="327" r="2.15"/>
<circle class="dot" cx="643" cy="328" r="2.15"/>
<circle class="dot" cx="647" cy="328.6" r="2.15"/>
<circle class="dot" cx="645" cy="332" r="2.15"/>
<circle class="dot" cx="650" cy="332.4" r="2.15"/>
<circle class="dot" cx="653" cy="332" r="2.15"/>
<circle class="dot" cx="648.4" cy="333.4" r="2.15"/>
<circle class="dot" cx="672" cy="234.6" r="2.15"/>
<circle class="dot" cx="672" cy="255.6" r="2.15"/>
<circle class="dot" cx="668" cy="268.6" r="2.15"/>
<circle class="dot" cx="676" cy="268" r="2.15"/>
<circle class="dot" cx="667.4" cy="272" r="2.15"/>
<circle class="dot" cx="677" cy="272" r="2.15"/>
<circle class="dot" cx="673.6" cy="275" r="2.15"/>
<circle class="dot" cx="672" cy="314.6" r="2.15"/>
</g>
<g id="B1" class="b">
<text class="ti" x="89.25" y="410">Olfr19</text>
<text class="yl" transform="translate(24.25 495.5) rotate(-90)" y="2.8">Relative to GAPDH</text>
<path class="bar" d="M59.12 548.25 V487 H69.38 V548.25"/>
<path class="bar" d="M76.62 548.25 V532 H86.88 V548.25"/>
<path class="bar" d="M94.38 548.25 V529.75 H104.62 V548.25"/>
<path class="bar" d="M111.62 548.25 V483.75 M121.88 548.25 V483.75"/>
<path class="bar" d="M111.62 476.1 V474.5 H121.88 V476.1"/>
<path class="bar" d="M129.38 548.25 V490.75 H139.62 V548.25"/>
<path class="bar" d="M146.88 548.25 V483.75 M157.12 548.25 V483.75"/>
<path class="bar" d="M146.88 476.1 V470 H157.12 V476.1"/>
<path class="err2" d="M64.5 483.75 V521.25 M61.73 521.5 H67.27"/>
<path class="err" d="M81.5 527.5 V531.25 M78.73 527.5 H84.27 M78.73 531.5 H84.27"/>
<path class="err" d="M99.5 526.25 V530 M96.73 526.5 H102.27 M96.73 530.5 H102.27"/>
<path class="err2" d="M116.5 483.75 V513.75 M113.73 513.5 H119.27"/>
<path class="err" d="M116.5 471.25 V474.5 M113.73 471.5 H119.27 M113.73 474.5 H119.27"/>
<path class="err" d="M134.5 484.25 V497.5 M131.73 484.5 H137.27 M131.73 497.5 H137.27"/>
<path class="err" d="M152.5 464.5 V470 M149.73 464.5 H155.27 M149.73 470.5 H155.27"/>
<path class="ax" d="M52.5 416.35 V475.5 M52.5 483.75 V548.25 M46.4 417 H52.5 M46.4 429.5 H52.5 M46.4 441.75 H52.5 M46.4 453.75 H52.5 M46.4 466 H52.5 M48.1 496.75 H52.5 M48.1 509.5 H52.5 M48.1 522.5 H52.5 M48.1 535.5 H52.5 M48.1 548.25 H52.5 M49.2 475.5 H55.8 M49.2 483.75 H55.8 M48.1 548.25 H163.75 M64.25 548.25 V553.25 M81.75 548.25 V553.25 M99.5 548.25 V553.25 M116.75 548.25 V553.25 M134.5 548.25 V553.25 M152 548.25 V553.25"/>
<text class="tl" style="font-size:8.4px" x="43.5" y="420.27">1.0</text>
<text class="tl" style="font-size:8.4px" x="43.5" y="432.77">0.8</text>
<text class="tl" style="font-size:8.4px" x="43.5" y="445.02">0.6</text>
<text class="tl" style="font-size:8.4px" x="43.5" y="457.02">0.4</text>
<text class="tl" style="font-size:8.4px" x="43.5" y="469.27">0.2</text>
<text class="tl" style="font-size:8.4px" x="47.6" y="487.62">0.05</text>
<text class="tl" style="font-size:8.4px" x="47.6" y="500.02">0.04</text>
<text class="tl" style="font-size:8.4px" x="47.6" y="512.77">0.03</text>
<text class="tl" style="font-size:8.4px" x="47.6" y="525.77">0.02</text>
<text class="tl" style="font-size:8.4px" x="47.6" y="538.77">0.01</text>
<text class="tl" style="font-size:8.4px" x="47.6" y="551.52">0.00</text>
<text class="xl" transform="translate(65.35 559.75) rotate(-45)">Mock</text>
<text class="xl" transform="translate(82.85 559.75) rotate(-45)">2dpi</text>
<text class="xl" transform="translate(100.6 559.75) rotate(-45)">6dpi</text>
<text class="xl" transform="translate(117.85 559.75) rotate(-45)">12 dpi</text>
<text class="xl" transform="translate(135.6 559.75) rotate(-45)">22 dpi</text>
<text class="xl" transform="translate(153.1 559.75) rotate(-45)">40 dpi</text>
<path class="sig" d="M65.5 433.5 H152.5"/>
<text class="st" style="font-size:7.4px;letter-spacing:0.6px" x="68.09" y="433.6">*</text>
<path class="sig" d="M64.25 453.5 H93.25"/>
<text class="st" style="font-size:7.4px;letter-spacing:0.6px" x="68.09" y="453.1">**</text>
<path class="sig" d="M64.25 459.5 H80.5"/>
<text class="st" style="font-size:7.4px;letter-spacing:0.6px" x="68.09" y="459.35">**</text>
<circle class="dot" cx="64.25" cy="463.75" r="2.12"/>
<circle class="dot" cx="60.75" cy="472.5" r="2.12"/>
<circle class="dot" cx="64.25" cy="472.5" r="2.12"/>
<circle class="dot" cx="67.5" cy="474.5" r="2.12"/>
<circle class="dot" cx="62" cy="504.5" r="2.12"/>
<circle class="dot" cx="66.25" cy="505" r="2.12"/>
<circle class="dot" cx="64.25" cy="508.75" r="2.12"/>
<circle class="dot" cx="64.25" cy="514.25" r="2.12"/>
<circle class="dot" cx="64.25" cy="520" r="2.12"/>
<circle class="dot" cx="61.25" cy="522.5" r="2.12"/>
<circle class="dot" cx="67.5" cy="522.5" r="2.12"/>
<circle class="dot" cx="64.25" cy="528.75" r="2.12"/>
<circle class="dot" cx="64.25" cy="534.5" r="2.12"/>
<circle class="dot" cx="81.75" cy="510" r="2.12"/>
<circle class="dot" cx="78.25" cy="525.5" r="2.12"/>
<circle class="dot" cx="81.75" cy="527.5" r="2.12"/>
<circle class="dot" cx="85.5" cy="528.75" r="2.12"/>
<circle class="dot" cx="80" cy="532" r="2.12"/>
<circle class="dot" cx="83.75" cy="532.5" r="2.12"/>
<circle class="dot" cx="78.25" cy="536.25" r="2.12"/>
<circle class="dot" cx="85" cy="537" r="2.12"/>
<circle class="dot" cx="80" cy="541.25" r="2.12"/>
<circle class="dot" cx="83.75" cy="542.5" r="2.12"/>
<circle class="dot" cx="99.5" cy="514.25" r="2.12"/>
<circle class="dot" cx="96.25" cy="526.25" r="2.12"/>
<circle class="dot" cx="102.5" cy="527.5" r="2.12"/>
<circle class="dot" cx="97.5" cy="532" r="2.12"/>
<circle class="dot" cx="101.25" cy="532.5" r="2.12"/>
<circle class="dot" cx="96.25" cy="536.25" r="2.12"/>
<circle class="dot" cx="102.5" cy="537" r="2.12"/>
<circle class="dot" cx="116.75" cy="455.5" r="2.12"/>
<circle class="dot" cx="116.75" cy="474.5" r="2.12"/>
<circle class="dot" cx="116.75" cy="505.75" r="2.12"/>
<circle class="dot" cx="116.75" cy="511.25" r="2.12"/>
<circle class="dot" cx="116.75" cy="517.5" r="2.12"/>
<circle class="dot" cx="112.5" cy="523.75" r="2.12"/>
<circle class="dot" cx="120.75" cy="526.25" r="2.12"/>
<circle class="dot" cx="116.75" cy="534.5" r="2.12"/>
<circle class="dot" cx="130.75" cy="474.5" r="2.12"/>
<circle class="dot" cx="134.5" cy="474.5" r="2.12"/>
<circle class="dot" cx="138.25" cy="474.5" r="2.12"/>
<circle class="dot" cx="134.5" cy="492" r="2.12"/>
<circle class="dot" cx="134.5" cy="497.5" r="2.12"/>
<circle class="dot" cx="132.5" cy="508.25" r="2.12"/>
<circle class="dot" cx="137" cy="508.25" r="2.12"/>
<circle class="dot" cx="152" cy="441.75" r="2.12"/>
<circle class="dot" cx="148.75" cy="470" r="2.12"/>
<circle class="dot" cx="155" cy="470.5" r="2.12"/>
<circle class="dot" cx="152" cy="473.25" r="2.12"/>
<circle class="dot" cx="156.25" cy="474.5" r="2.12"/>
<circle class="dot" cx="152" cy="512.5" r="2.12"/>
<circle class="dot" cx="152" cy="517.5" r="2.12"/>
</g>
<g id="B2" class="b">
<text class="ti" x="261.25" y="408.75">Olfr556</text>
<text class="yl" transform="translate(176.25 507.5) rotate(-90)" y="2.8">Relative to GAPDH</text>
<path class="bar" d="M210.62 559.25 V525 H220.88 V559.25"/>
<path class="bar" d="M228.12 559.25 V536.25 H238.38 V559.25"/>
<path class="bar" d="M246.12 559.25 V541.25 H256.38 V559.25"/>
<path class="bar" d="M263.62 559.25 V508.25 H273.88 V559.25"/>
<path class="bar" d="M281.12 559.25 V485 M291.38 559.25 V485"/>
<path class="bar" d="M298.62 559.25 V485 M308.88 559.25 V485"/>
<path class="bar" d="M298.62 476.35 V473.25 H308.88 V476.35"/>
<path d="M281 489.75 H291.5" fill="none" stroke="#000" stroke-width="1.6"/>
<path class="err" d="M215.5 513.75 V525 M212.73 513.5 H218.27 M212.73 525.5 H218.27"/>
<path class="err" d="M233.5 530.75 V536.25 M230.73 530.5 H236.27 M230.73 536.5 H236.27"/>
<path class="err" d="M251.5 536.25 V541.25 M248.73 536.5 H254.27 M248.73 541.5 H254.27"/>
<path class="err" style="stroke:#999;stroke-width:1.2" d="M268.5 495 V521.25 M265.73 495.5 H271.27 M265.73 521.5 H271.27"/>
<path class="err2" style="stroke:#999;stroke-width:1.2" d="M286.5 485 V498.75 M283.73 498.5 H289.27"/>
<path class="ax" d="M205 428.6 V475.75 M205 485 V559.25 M198.9 429.25 H205 M198.9 441.25 H205 M198.9 453 H205 M198.9 465 H205 M200.6 499.5 H205 M200.6 514.5 H205 M200.6 529.25 H205 M200.6 544.25 H205 M200.6 559.25 H205 M201.7 475.75 H208.3 M201.7 485 H208.3 M200.6 559.25 H315 M215.75 559.25 V564.25 M233.25 559.25 V564.25 M251.25 559.25 V564.25 M268.75 559.25 V564.25 M286.25 559.25 V564.25 M303.75 559.25 V564.25"/>
<text class="tl" style="font-size:8.4px" x="196" y="432.52">2.0</text>
<text class="tl" style="font-size:8.4px" x="196" y="444.52">1.5</text>
<text class="tl" style="font-size:8.4px" x="196" y="456.27">1.0</text>
<text class="tl" style="font-size:8.4px" x="196" y="468.27">0.5</text>
<text class="tl" style="font-size:8.4px" x="199.4" y="488.87">0.05</text>
<text class="tl" style="font-size:8.4px" x="199.4" y="502.77">0.04</text>
<text class="tl" style="font-size:8.4px" x="199.4" y="517.77">0.03</text>
<text class="tl" style="font-size:8.4px" x="199.4" y="532.52">0.02</text>
<text class="tl" style="font-size:8.4px" x="199.4" y="547.52">0.01</text>
<text class="tl" style="font-size:8.4px" x="199.4" y="562.52">0.00</text>
<text class="xl" transform="translate(216.85 570.75) rotate(-45)">Mock</text>
<text class="xl" transform="translate(234.35 570.75) rotate(-45)">2dpi</text>
<text class="xl" transform="translate(252.35 570.75) rotate(-45)">6dpi</text>
<text class="xl" transform="translate(269.85 570.75) rotate(-45)">12 dpi</text>
<text class="xl" transform="translate(287.35 570.75) rotate(-45)">22 dpi</text>
<text class="xl" transform="translate(304.85 570.75) rotate(-45)">40 dpi</text>
<path class="sig" d="M215 447.5 H302.5"/>
<text class="st" style="font-size:7.4px;letter-spacing:0.6px" x="244.09" y="447.35">**</text>
<path class="sig" d="M215 457.5 H286.25"/>
<text class="st" style="font-size:7.4px;letter-spacing:0.6px" x="244.09" y="457.35">***</text>
<circle class="dot" cx="215.75" cy="475" r="2.12"/>
<circle class="dot" cx="215.75" cy="505" r="2.12"/>
<circle class="dot" cx="215.75" cy="520" r="2.12"/>
<circle class="dot" cx="215.75" cy="528" r="2.12"/>
<circle class="dot" cx="212.5" cy="536.25" r="2.12"/>
<circle class="dot" cx="218.75" cy="537" r="2.12"/>
<circle class="dot" cx="215.75" cy="540" r="2.12"/>
<circle class="dot" cx="212.5" cy="543.25" r="2.12"/>
<circle class="dot" cx="219.5" cy="542.5" r="2.12"/>
<circle class="dot" cx="213.75" cy="548.25" r="2.12"/>
<circle class="dot" cx="217.5" cy="548.75" r="2.12"/>
<circle class="dot" cx="233.25" cy="494.25" r="2.12"/>
<circle class="dot" cx="233.25" cy="525.5" r="2.12"/>
<circle class="dot" cx="233.25" cy="532.5" r="2.12"/>
<circle class="dot" cx="230" cy="540" r="2.12"/>
<circle class="dot" cx="236.25" cy="540" r="2.12"/>
<circle class="dot" cx="233.25" cy="542.5" r="2.12"/>
<circle class="dot" cx="231.25" cy="546.25" r="2.12"/>
<circle class="dot" cx="236.25" cy="546.25" r="2.12"/>
<circle class="dot" cx="233.75" cy="550.75" r="2.12"/>
<circle class="dot" cx="251.25" cy="522.5" r="2.12"/>
<circle class="dot" cx="251.25" cy="528.75" r="2.12"/>
<circle class="dot" cx="251.25" cy="537.5" r="2.12"/>
<circle class="dot" cx="248.75" cy="545" r="2.12"/>
<circle class="dot" cx="253.75" cy="545" r="2.12"/>
<circle class="dot" cx="248.75" cy="553.75" r="2.12"/>
<circle class="dot" cx="254.5" cy="555" r="2.12"/>
<circle class="dot" cx="268.75" cy="475" r="2.12"/>
<circle class="dot" cx="268.75" cy="494.25" r="2.12"/>
<circle class="dot" cx="265" cy="500" r="2.12"/>
<circle class="dot" cx="272.5" cy="503.25" r="2.12"/>
<circle class="dot" cx="268.75" cy="506.25" r="2.12"/>
<circle class="dot" cx="265" cy="540" r="2.12"/>
<circle class="dot" cx="272.5" cy="541.75" r="2.12"/>
<circle class="dot" cx="265" cy="546.25" r="2.12"/>
<circle class="dot" cx="286.25" cy="465" r="2.12"/>
<circle class="dot" cx="282.5" cy="475.5" r="2.12"/>
<circle class="dot" cx="286.25" cy="475.5" r="2.12"/>
<circle class="dot" cx="290" cy="475.5" r="2.12"/>
<circle class="dot" cx="282.5" cy="486.25" r="2.12"/>
<circle class="dot" cx="286.25" cy="490" r="2.12"/>
<circle class="dot" cx="290" cy="490.75" r="2.12"/>
<circle class="dot" cx="286.25" cy="514.25" r="2.12"/>
<circle class="dot" cx="286.25" cy="524.25" r="2.12"/>
<circle class="dot" cx="283.75" cy="532.5" r="2.12"/>
<circle class="dot" cx="288.75" cy="532.5" r="2.12"/>
<circle class="dot" cx="303.75" cy="464.5" r="2.12"/>
<circle class="dot" cx="300" cy="471.25" r="2.12"/>
<circle class="dot" cx="303.75" cy="474.5" r="2.12"/>
<circle class="dot" cx="307.5" cy="473.75" r="2.12"/>
<circle class="dot" cx="303.75" cy="502.5" r="2.12"/>
<circle class="dot" cx="303.75" cy="507" r="2.12"/>
<circle class="dot" cx="303.75" cy="519.25" r="2.12"/>
</g>
<g id="B3" class="b">
<text class="ti" x="423" y="407.5">Olfr109</text>
<text class="yl" transform="translate(334.5 507.5) rotate(-90)" y="2.8">Relative to GAPDH</text>
<path class="bar" d="M369.88 559.5 V489.25 M380.12 559.5 V489.25"/>
<path class="bar" d="M369.88 480.1 V476.5 H380.12 V480.1"/>
<path class="bar" d="M387.38 559.5 V540.5 H397.62 V559.5"/>
<path class="bar" d="M404.88 559.5 V542.5 H415.12 V559.5"/>
<path class="bar" d="M422.38 559.5 V489.25 M432.62 559.5 V489.25"/>
<path class="bar" style="stroke:#ccc;stroke-width:1.1" d="M421.77 479.5 H433.23"/>
<path class="bar" d="M439.88 559.5 V489.25 H450.12 V559.5"/>
<path class="bar" d="M457.38 559.5 V489.25 M467.62 559.5 V489.25"/>
<path class="bar" d="M456.77 479.5 H468.23"/>
<path d="M440 479.5 H450" fill="none" stroke="#ccc" stroke-width="1.0"/>
<path class="err" d="M392.5 537.5 V540.5 M389.73 537.5 H395.27 M389.73 540.5 H395.27"/>
<path class="err" d="M410.5 538 V542.5 M407.73 538.5 H413.27 M407.73 542.5 H413.27"/>
<path class="err2" d="M427.5 489.25 V527.5 M424.73 527.5 H430.27"/>
<path class="ax" d="M363.25 430.1 V479.5 M363.25 489.25 V559.5 M357.15 430.75 H363.25 M357.15 443 H363.25 M357.15 455.25 H363.25 M357.15 467.5 H363.25 M358.85 503.5 H363.25 M358.85 517.5 H363.25 M358.85 531.5 H363.25 M358.85 545.5 H363.25 M358.85 559.5 H363.25 M359.95 479.5 H366.55 M359.95 489.25 H366.55 M358.85 559.5 H474.25 M375 559.5 V564.5 M392.5 559.5 V564.5 M410 559.5 V564.5 M427.5 559.5 V564.5 M445 559.5 V564.5 M462.5 559.5 V564.5"/>
<text class="tl" style="font-size:8.1px" x="353.85" y="433.91">400</text>
<text class="tl" style="font-size:8.1px" x="353.85" y="446.16">300</text>
<text class="tl" style="font-size:8.1px" x="353.85" y="458.41">200</text>
<text class="tl" style="font-size:8.1px" x="353.85" y="470.66">100</text>
<text class="tl" style="font-size:8.1px" x="357.05" y="493.01">0.05</text>
<text class="tl" style="font-size:8.1px" x="357.05" y="506.66">0.04</text>
<text class="tl" style="font-size:8.1px" x="357.05" y="520.66">0.03</text>
<text class="tl" style="font-size:8.1px" x="357.05" y="534.66">0.02</text>
<text class="tl" style="font-size:8.1px" x="357.05" y="548.66">0.01</text>
<text class="tl" style="font-size:8.1px" x="357.05" y="562.66">0.00</text>
<text class="xl" transform="translate(376.1 571) rotate(-45)">Mock</text>
<text class="xl" transform="translate(393.6 571) rotate(-45)">2dpi</text>
<text class="xl" transform="translate(411.1 571) rotate(-45)">6dpi</text>
<text class="xl" transform="translate(428.6 571) rotate(-45)">12 dpi</text>
<text class="xl" transform="translate(446.1 571) rotate(-45)">22 dpi</text>
<text class="xl" transform="translate(463.6 571) rotate(-45)">40 dpi</text>
<path class="sig" d="M375 436.5 H442.5"/>
<text class="st" style="font-size:7.4px;letter-spacing:0.6px" x="377.84" y="434.9">*</text>
<path class="sig" d="M375 442.5 H421.25"/>
<text class="st" style="font-size:7.4px;letter-spacing:0.6px" x="377.84" y="442.2">*</text>
<path class="sig" d="M375 448.5 H400.75"/>
<text class="st" style="font-size:7.4px;letter-spacing:0.6px" x="377.84" y="448.9">***</text>
<path class="sig" d="M375 453.5 H390"/>
<text class="st" style="font-size:7.4px;letter-spacing:0.6px" x="377.84" y="455.4">****</text>
<circle class="dot" cx="373.75" cy="463" r="2.12"/>
<circle class="dot" cx="376.25" cy="461.75" r="2.12"/>
<circle class="dot" cx="373.75" cy="472.5" r="2.12"/>
<circle class="dot" cx="376.75" cy="471.25" r="2.12"/>
<circle class="dot" cx="371.25" cy="477.5" r="2.12"/>
<circle class="dot" cx="375" cy="478" r="2.12"/>
<circle class="dot" cx="378.75" cy="478" r="2.12"/>
<circle class="dot" cx="375" cy="479.5" r="2.12"/>
<circle class="dot" cx="371.75" cy="479.25" r="2.12"/>
<circle class="dot" cx="378.25" cy="479.25" r="2.12"/>
<circle class="dot" cx="373.25" cy="480" r="2.12"/>
<circle class="dot" cx="376.75" cy="480" r="2.12"/>
<circle class="dot" cx="375" cy="525" r="2.12"/>
<circle class="dot" cx="375" cy="533.75" r="2.12"/>
<circle class="dot" cx="376.75" cy="534.5" r="2.12"/>
<circle class="dot" cx="375" cy="542" r="2.12"/>
<circle class="dot" cx="392.5" cy="504.25" r="2.12"/>
<circle class="dot" cx="393.75" cy="533.75" r="2.12"/>
<circle class="dot" cx="390" cy="537.5" r="2.12"/>
<circle class="dot" cx="391.25" cy="541.25" r="2.12"/>
<circle class="dot" cx="395" cy="542" r="2.12"/>
<circle class="dot" cx="389.5" cy="545" r="2.12"/>
<circle class="dot" cx="395.75" cy="545.75" r="2.12"/>
<circle class="dot" cx="390.5" cy="549.5" r="2.12"/>
<circle class="dot" cx="395" cy="550" r="2.12"/>
<circle class="dot" cx="410" cy="523.75" r="2.12"/>
<circle class="dot" cx="410" cy="533.75" r="2.12"/>
<circle class="dot" cx="407" cy="542.5" r="2.12"/>
<circle class="dot" cx="412.5" cy="543" r="2.12"/>
<circle class="dot" cx="407.5" cy="547.5" r="2.12"/>
<circle class="dot" cx="413" cy="547.5" r="2.12"/>
<circle class="dot" cx="410" cy="553.75" r="2.12"/>
<circle class="dot" cx="427.5" cy="479.5" r="2.12"/>
<circle class="dot" cx="427.5" cy="505" r="2.12"/>
<circle class="dot" cx="427.5" cy="511.25" r="2.12"/>
<circle class="dot" cx="429.5" cy="517.5" r="2.12"/>
<circle class="dot" cx="427.5" cy="533.75" r="2.12"/>
<circle class="dot" cx="423.75" cy="538.75" r="2.12"/>
<circle class="dot" cx="431.25" cy="541.25" r="2.12"/>
<circle class="dot" cx="427.5" cy="547" r="2.12"/>
<circle class="dot" cx="445" cy="479.5" r="2.12"/>
<circle class="dot" cx="441.25" cy="490" r="2.12"/>
<circle class="dot" cx="448.75" cy="490" r="2.12"/>
<circle class="dot" cx="445" cy="491.75" r="2.12"/>
<circle class="dot" cx="445" cy="497.5" r="2.12"/>
<circle class="dot" cx="445" cy="503.25" r="2.12"/>
<circle class="dot" cx="442.5" cy="507.5" r="2.12"/>
<circle class="dot" cx="447.5" cy="508.25" r="2.12"/>
<circle class="dot" cx="445" cy="513.75" r="2.12"/>
<circle class="dot" cx="445" cy="521.25" r="2.12"/>
<circle class="dot" cx="447.5" cy="527.5" r="2.12"/>
<circle class="dot" cx="441.25" cy="533.75" r="2.12"/>
<circle class="dot" cx="448.25" cy="532.5" r="2.12"/>
<circle class="dot" cx="458.75" cy="479.5" r="2.12"/>
<circle class="dot" cx="461.25" cy="479.5" r="2.12"/>
<circle class="dot" cx="463.75" cy="479.5" r="2.12"/>
<circle class="dot" cx="466.25" cy="479.5" r="2.12"/>
</g>
<g id="B4" class="b">
<text class="ti" x="589.25" y="407.5">Olfr1019</text>
<text class="yl" transform="translate(496.25 507.5) rotate(-90)" y="2.8">Relative to GAPDH</text>
<path class="bar" d="M529.88 559.25 V514.25 H540.12 V559.25"/>
<path class="bar" d="M547.38 559.25 V556.25 H557.62 V559.25"/>
<path class="bar" d="M565.38 559.25 V550 H575.62 V559.25"/>
<path class="bar" d="M583.12 559.25 V546.25 H593.38 V559.25"/>
<path class="bar" style="stroke:#777" d="M601.12 559.25 V548.75 H611.38 V559.25"/>
<path class="bar" style="stroke:#aaa" d="M619.12 559.25 V543.75 H629.38 V559.25"/>
<path class="err" style="stroke:#777;stroke-width:1.2" d="M535.5 496.75 V530 M532.73 496.5 H538.27 M532.73 530.5 H538.27"/>
<path class="err" d="M588.5 542.5 V546.25 M585.73 542.5 H591.27 M585.73 546.5 H591.27"/>
<path class="err" d="M624.5 533.25 V543.75 M621.73 533.5 H627.27 M621.73 543.5 H627.27"/>
<path class="ax" d="M523.25 429.35 V478.75 M523.25 488.25 V559.25 M517.15 430 H523.25 M517.15 443 H523.25 M517.15 456.25 H523.25 M517.15 469.25 H523.25 M518.85 502 H523.25 M518.85 530.75 H523.25 M518.85 559.25 H523.25 M519.95 478.75 H526.55 M519.95 488.25 H526.55 M518.85 559.25 H635.5 M535 559.25 V564.25 M552.5 559.25 V564.25 M570.5 559.25 V564.25 M588.25 559.25 V564.25 M606.25 559.25 V564.25 M624.25 559.25 V564.25"/>
<text class="tl" style="font-size:8.1px" x="513.15" y="433.16">0.8</text>
<text class="tl" style="font-size:8.1px" x="513.15" y="446.16">0.6</text>
<text class="tl" style="font-size:8.1px" x="513.15" y="459.41">0.4</text>
<text class="tl" style="font-size:8.1px" x="513.15" y="472.41">0.2</text>
<text class="tl" style="font-size:8.1px" x="516.55" y="505.16">0.04</text>
<text class="tl" style="font-size:8.1px" x="516.55" y="533.91">0.02</text>
<text class="tl" style="font-size:8.1px" x="516.55" y="562.41">0.00</text>
<text class="xl" transform="translate(536.1 570.75) rotate(-45)">Mock</text>
<text class="xl" transform="translate(553.6 570.75) rotate(-45)">2dpi</text>
<text class="xl" transform="translate(571.6 570.75) rotate(-45)">6dpi</text>
<text class="xl" transform="translate(589.35 570.75) rotate(-45)">12 dpi</text>
<text class="xl" transform="translate(607.35 570.75) rotate(-45)">22 dpi</text>
<text class="xl" transform="translate(625.35 570.75) rotate(-45)">40 dpi</text>
<path class="sig" d="M533.75 465.5 H551.25"/>
<text class="st" style="font-size:7.4px;letter-spacing:0.6px" x="538.84" y="464.85">***</text>
<circle class="dot" cx="535" cy="472.5" r="2.12"/>
<circle class="dot" cx="533.75" cy="478" r="2.12"/>
<circle class="dot" cx="535.75" cy="477.5" r="2.12"/>
<circle class="dot" cx="535" cy="507.5" r="2.12"/>
<circle class="dot" cx="535" cy="537.5" r="2.12"/>
<circle class="dot" cx="535" cy="545.75" r="2.12"/>
<circle class="dot" cx="533.75" cy="548.75" r="2.12"/>
<circle class="dot" cx="536.25" cy="550" r="2.12"/>
<circle class="dot" cx="532.5" cy="555" r="2.12"/>
<circle class="dot" cx="537.5" cy="555" r="2.12"/>
<circle class="dot" cx="535" cy="556.25" r="2.12"/>
<circle class="dot" cx="548.75" cy="555" r="2.12"/>
<circle class="dot" cx="551.25" cy="554.5" r="2.12"/>
<circle class="dot" cx="553.75" cy="555.5" r="2.12"/>
<circle class="dot" cx="556.25" cy="556.25" r="2.12"/>
<circle class="dot" cx="550" cy="557" r="2.12"/>
<circle class="dot" cx="554.5" cy="557" r="2.12"/>
<circle class="dot" cx="567" cy="545" r="2.12"/>
<circle class="dot" cx="574.25" cy="544.25" r="2.12"/>
<circle class="dot" cx="570.5" cy="548" r="2.12"/>
<circle class="dot" cx="567.5" cy="551.25" r="2.12"/>
<circle class="dot" cx="573.75" cy="552" r="2.12"/>
<circle class="dot" cx="570.5" cy="556.25" r="2.12"/>
<circle class="dot" cx="588.25" cy="528.75" r="2.12"/>
<circle class="dot" cx="588.25" cy="535" r="2.12"/>
<circle class="dot" cx="585" cy="546.25" r="2.12"/>
<circle class="dot" cx="591.25" cy="547.5" r="2.12"/>
<circle class="dot" cx="588.25" cy="548.75" r="2.12"/>
<circle class="dot" cx="585" cy="553.75" r="2.12"/>
<circle class="dot" cx="591.25" cy="555" r="2.12"/>
<circle class="dot" cx="608" cy="540" r="2.12"/>
<circle class="dot" cx="605" cy="541.75" r="2.12"/>
<circle class="dot" cx="606.25" cy="546.25" r="2.12"/>
<circle class="dot" cx="603" cy="548.75" r="2.12"/>
<circle class="dot" cx="608.75" cy="549.5" r="2.12"/>
<circle class="dot" cx="606.25" cy="552" r="2.12"/>
<circle class="dot" cx="603.75" cy="555" r="2.12"/>
<circle class="dot" cx="609.5" cy="555.5" r="2.12"/>
<circle class="dot" cx="624.25" cy="478.75" r="2.12"/>
<circle class="dot" cx="624.25" cy="542" r="2.12"/>
<circle class="dot" cx="624.25" cy="552" r="2.12"/>
<circle class="dot" cx="621.25" cy="556.25" r="2.12"/>
<circle class="dot" cx="627.5" cy="556.25" r="2.12"/>
</g>
<g id="B5" class="b">
<text class="ti" x="80.5" y="597.5">Olfr167</text>
<text class="yl" transform="translate(22.5 677) rotate(-90)" y="2.8">Relative to GAPDH</text>
<path class="bar" d="M56.88 728.75 V658.25 M67.12 728.75 V658.25"/>
<path class="bar" d="M56.88 648.85 V647.5 H67.12 V648.85"/>
<path class="bar" d="M74.88 728.75 V699.5 H85.12 V728.75"/>
<path class="bar" d="M92.38 728.75 V701.75 H102.62 V728.75"/>
<path class="bar" d="M109.88 728.75 V658.25 M120.12 728.75 V658.25"/>
<path class="bar" style="stroke:#555;stroke-width:1.1" d="M109.28 648.25 H120.72"/>
<path class="bar" d="M127.38 728.75 V658.25 M137.62 728.75 V658.25"/>
<path class="bar" d="M126.78 648.25 H138.22"/>
<path class="bar" d="M145.38 728.75 V658.25 M155.62 728.75 V658.25"/>
<path class="bar" d="M145.38 648.85 V647 H155.62 V648.85"/>
<path d="M57 701.9 H67" fill="none" stroke="#000" stroke-width="1.4"/>
<path class="err" d="M80.5 689.25 V699.5 M77.73 689.5 H83.27 M77.73 699.5 H83.27"/>
<path class="err" d="M97.5 695.5 V701.75 M94.73 695.5 H100.27 M94.73 701.5 H100.27"/>
<path class="err2" d="M115.5 658.25 V685 M112.73 685.5 H118.27"/>
<path class="err" d="M150.5 642 V647 M147.73 642.5 H153.27 M147.73 647.5 H153.27"/>
<path class="ax" d="M50.5 599.85 V648.25 M50.5 658.25 V728.75 M44.4 600.5 H50.5 M44.4 613 H50.5 M44.4 625.5 H50.5 M44.4 638 H50.5 M46.1 672.5 H50.5 M46.1 686.75 H50.5 M46.1 700.75 H50.5 M46.1 715 H50.5 M46.1 728.75 H50.5 M47.2 648.25 H53.8 M47.2 658.25 H53.8 M46.1 728.75 H162 M62 728.75 V733.75 M80 728.75 V733.75 M97.5 728.75 V733.75 M115 728.75 V733.75 M132.5 728.75 V733.75 M150.5 728.75 V733.75"/>
<text class="tl" style="font-size:8px" x="44.2" y="603.62">2.0</text>
<text class="tl" style="font-size:8px" x="44.2" y="616.12">1.5</text>
<text class="tl" style="font-size:8px" x="44.2" y="628.62">1.0</text>
<text class="tl" style="font-size:8px" x="44.2" y="641.12">0.5</text>
<text class="tl" style="font-size:8px" x="47.6" y="661.97">0.05</text>
<text class="tl" style="font-size:8px" x="47.6" y="675.62">0.04</text>
<text class="tl" style="font-size:8px" x="47.6" y="689.87">0.03</text>
<text class="tl" style="font-size:8px" x="47.6" y="703.87">0.02</text>
<text class="tl" style="font-size:8px" x="47.6" y="718.12">0.01</text>
<text class="tl" style="font-size:8px" x="47.6" y="731.87">0.00</text>
<text class="xl" transform="translate(63.1 740.25) rotate(-45)">Mock</text>
<text class="xl" transform="translate(81.1 740.25) rotate(-45)">2dpi</text>
<text class="xl" transform="translate(98.6 740.25) rotate(-45)">6dpi</text>
<text class="xl" transform="translate(116.1 740.25) rotate(-45)">12 dpi</text>
<text class="xl" transform="translate(133.6 740.25) rotate(-45)">22 dpi</text>
<text class="xl" transform="translate(151.6 740.25) rotate(-45)">40 dpi</text>
<path class="sig" d="M61.75 625.5 H93"/>
<text class="st" style="font-size:7.4px;letter-spacing:0.6px" x="71.59" y="625.6">*</text>
<path class="sig" d="M61.75 631.5 H83.75"/>
<text class="st" style="font-size:7.4px;letter-spacing:0.6px" x="71.59" y="631.6">*</text>
<circle class="dot" cx="58.75" cy="640" r="2.12"/>
<circle class="dot" cx="62.5" cy="639.5" r="2.12"/>
<circle class="dot" cx="65.5" cy="638.75" r="2.12"/>
<circle class="dot" cx="58.75" cy="647" r="2.12"/>
<circle class="dot" cx="62.5" cy="646.25" r="2.12"/>
<circle class="dot" cx="66.25" cy="647" r="2.12"/>
<circle class="dot" cx="60" cy="648.25" r="2.12"/>
<circle class="dot" cx="62" cy="669.25" r="2.12"/>
<circle class="dot" cx="62" cy="680.75" r="2.12"/>
<circle class="dot" cx="62" cy="697" r="2.12"/>
<circle class="dot" cx="60" cy="702.5" r="2.12"/>
<circle class="dot" cx="65" cy="703.25" r="2.12"/>
<circle class="dot" cx="62.5" cy="705" r="2.12"/>
<circle class="dot" cx="64.5" cy="711.25" r="2.12"/>
<circle class="dot" cx="60.75" cy="715" r="2.12"/>
<circle class="dot" cx="80" cy="648.25" r="2.12"/>
<circle class="dot" cx="80" cy="686.25" r="2.12"/>
<circle class="dot" cx="80" cy="701.25" r="2.12"/>
<circle class="dot" cx="77.5" cy="707.5" r="2.12"/>
<circle class="dot" cx="82.5" cy="708" r="2.12"/>
<circle class="dot" cx="80" cy="710" r="2.12"/>
<circle class="dot" cx="77.5" cy="715.75" r="2.12"/>
<circle class="dot" cx="82.5" cy="716.25" r="2.12"/>
<circle class="dot" cx="97.5" cy="673.75" r="2.12"/>
<circle class="dot" cx="97.5" cy="687.5" r="2.12"/>
<circle class="dot" cx="95" cy="702.5" r="2.12"/>
<circle class="dot" cx="100" cy="703.25" r="2.12"/>
<circle class="dot" cx="95.5" cy="708.75" r="2.12"/>
<circle class="dot" cx="100" cy="709.5" r="2.12"/>
<circle class="dot" cx="97.5" cy="718.25" r="2.12"/>
<circle class="dot" cx="115" cy="644.5" r="2.12"/>
<circle class="dot" cx="115" cy="662" r="2.12"/>
<circle class="dot" cx="111.25" cy="666.75" r="2.12"/>
<circle class="dot" cx="118.75" cy="670" r="2.12"/>
<circle class="dot" cx="115" cy="693.75" r="2.12"/>
<circle class="dot" cx="115" cy="703.75" r="2.12"/>
<circle class="dot" cx="115" cy="712.5" r="2.12"/>
<circle class="dot" cx="132.5" cy="639.5" r="2.12"/>
<circle class="dot" cx="128.75" cy="647.5" r="2.12"/>
<circle class="dot" cx="132.5" cy="648" r="2.12"/>
<circle class="dot" cx="136.25" cy="648" r="2.12"/>
<circle class="dot" cx="132.5" cy="663.25" r="2.12"/>
<circle class="dot" cx="132.5" cy="675" r="2.12"/>
<circle class="dot" cx="131.75" cy="692.5" r="2.12"/>
<circle class="dot" cx="133.75" cy="691.75" r="2.12"/>
<circle class="dot" cx="150.5" cy="629.25" r="2.12"/>
<circle class="dot" cx="147.5" cy="646.25" r="2.12"/>
<circle class="dot" cx="151.25" cy="645.5" r="2.12"/>
<circle class="dot" cx="154.5" cy="647" r="2.12"/>
<circle class="dot" cx="150" cy="648.25" r="2.12"/>
<circle class="dot" cx="150.5" cy="675" r="2.12"/>
<circle class="dot" cx="150.5" cy="683.75" r="2.12"/>
</g>
<g id="B6" class="b">
<text class="ti" x="255.5" y="596.25">Olfr609</text>
<text class="yl" transform="translate(176 676.25) rotate(-90)" y="2.8">Relative to GAPDH</text>
<path class="bar" d="M210 729.25 V660 H220 V729.25"/>
<path class="bar" d="M227 729.25 V700.5 H237 V729.25"/>
<path class="bar" d="M243.75 729.25 V690 H253.75 V729.25"/>
<path class="bar" d="M260.5 729.25 V659.5 M270.5 729.25 V659.5"/>
<path class="bar" d="M260.5 649.85 V647.5 H270.5 V649.85"/>
<path class="bar" d="M277.5 729.25 V659.5 M287.5 729.25 V659.5"/>
<path class="bar" d="M277.5 649.85 V645 H287.5 V649.85"/>
<path class="bar" d="M294.25 729.25 V715 H304.25 V729.25"/>
<path d="M211.75 649 H218.25" fill="none" stroke="#000" stroke-width="1.3"/>
<path class="err2" d="M215.5 659.5 V676 M212.8 676.5 H218.2"/>
<path class="err" d="M232.5 691.25 V700.5 M229.8 691.5 H235.2 M229.8 700.5 H235.2"/>
<path class="err" d="M248.5 686.25 V690 M245.8 686.5 H251.2 M245.8 690.5 H251.2"/>
<path class="err" d="M299.5 705.5 V715 M296.8 705.5 H302.2 M296.8 715.5 H302.2"/>
<path class="ax" d="M204.38 600.6 V649.25 M204.38 659.5 V729.25 M198.28 601.25 H204.38 M198.28 612 H204.38 M198.28 623 H204.38 M198.28 633.75 H204.38 M198.28 644.5 H204.38 M199.97 673.75 H204.38 M199.97 687.5 H204.38 M199.97 701.75 H204.38 M199.97 715.75 H204.38 M199.97 729.25 H204.38 M201.07 649.25 H207.68 M201.07 659.5 H207.68 M199.97 729.25 H310.75 M215 729.25 V734.25 M232 729.25 V734.25 M248.75 729.25 V734.25 M265.5 729.25 V734.25 M282.5 729.25 V734.25 M299.25 729.25 V734.25"/>
<text class="tl" style="font-size:7.8px" x="199.18" y="604.29">0.10</text>
<text class="tl" style="font-size:7.8px" x="199.18" y="615.04">0.08</text>
<text class="tl" style="font-size:7.8px" x="199.18" y="626.04">0.06</text>
<text class="tl" style="font-size:7.8px" x="199.18" y="636.79">0.04</text>
<text class="tl" style="font-size:7.8px" x="199.18" y="647.54">0.02</text>
<text class="tl" style="font-size:7.8px" x="202.88" y="663.14">0.010</text>
<text class="tl" style="font-size:7.8px" x="202.88" y="676.79">0.008</text>
<text class="tl" style="font-size:7.8px" x="202.88" y="690.54">0.006</text>
<text class="tl" style="font-size:7.8px" x="202.88" y="704.79">0.004</text>
<text class="tl" style="font-size:7.8px" x="202.88" y="718.79">0.002</text>
<text class="tl" style="font-size:7.8px" x="202.88" y="732.29">0.000</text>
<text class="xl" transform="translate(216.1 740.75) rotate(-45)">Mock</text>
<text class="xl" transform="translate(233.1 740.75) rotate(-45)">2dpi</text>
<text class="xl" transform="translate(249.85 740.75) rotate(-45)">6dpi</text>
<text class="xl" transform="translate(266.6 740.75) rotate(-45)">12 dpi</text>
<text class="xl" transform="translate(283.6 740.75) rotate(-45)">22 dpi</text>
<text class="xl" transform="translate(300.35 740.75) rotate(-45)">40 dpi</text>
<path class="sig" d="M213.75 613.5 H302.5"/>
<text class="st" style="font-size:7.4px;letter-spacing:0.6px" x="218.84" y="612.85">**</text>
<path class="sig" d="M213.75 619.5 H284.5"/>
<text class="st" style="font-size:7.4px;letter-spacing:0.6px" x="218.84" y="619.1">**</text>
<path class="sig" d="M213.75 625.5 H242.5"/>
<text class="st" style="font-size:7.4px;letter-spacing:0.6px" x="218.84" y="625.6">*</text>
<path class="sig" d="M213.75 632.5 H227.5"/>
<text class="st" style="font-size:7.4px;letter-spacing:0.6px" x="218.84" y="631.85">**</text>
<circle class="dot" cx="279" cy="644.5" r="2.12"/>
<circle class="dot" cx="286" cy="644.5" r="2.12"/>
<circle class="dot" cx="280.5" cy="648.3" r="2.12"/>
<circle class="dot" cx="285.5" cy="648.3" r="2.12"/>
<circle class="dot" cx="215" cy="639.5" r="2.12"/>
<circle class="dot" cx="215" cy="648.25" r="2.12"/>
<circle class="dot" cx="218.75" cy="660.75" r="2.12"/>
<circle class="dot" cx="211.25" cy="662.5" r="2.12"/>
<circle class="dot" cx="218.75" cy="667.5" r="2.12"/>
<circle class="dot" cx="212.5" cy="671.25" r="2.12"/>
<circle class="dot" cx="215.75" cy="675" r="2.12"/>
<circle class="dot" cx="215" cy="687.5" r="2.12"/>
<circle class="dot" cx="215" cy="695" r="2.12"/>
<circle class="dot" cx="215" cy="700" r="2.12"/>
<circle class="dot" cx="232" cy="647.5" r="2.12"/>
<circle class="dot" cx="228.75" cy="686.25" r="2.12"/>
<circle class="dot" cx="232.5" cy="688.75" r="2.12"/>
<circle class="dot" cx="232" cy="696.25" r="2.12"/>
<circle class="dot" cx="235" cy="701.25" r="2.12"/>
<circle class="dot" cx="231.25" cy="705" r="2.12"/>
<circle class="dot" cx="233.75" cy="706.25" r="2.12"/>
<circle class="dot" cx="232" cy="725" r="2.12"/>
<circle class="dot" cx="233.75" cy="726.25" r="2.12"/>
<circle class="dot" cx="245.75" cy="680.75" r="2.12"/>
<circle class="dot" cx="249.25" cy="683.25" r="2.12"/>
<circle class="dot" cx="247.5" cy="688.75" r="2.12"/>
<circle class="dot" cx="251.25" cy="690" r="2.12"/>
<circle class="dot" cx="248.75" cy="693.75" r="2.12"/>
<circle class="dot" cx="248.75" cy="702.5" r="2.12"/>
<circle class="dot" cx="262.5" cy="640" r="2.12"/>
<circle class="dot" cx="265.5" cy="643.25" r="2.12"/>
<circle class="dot" cx="268.75" cy="647" r="2.12"/>
<circle class="dot" cx="263.75" cy="647.5" r="2.12"/>
<circle class="dot" cx="266.25" cy="648.75" r="2.12"/>
<circle class="dot" cx="265.5" cy="693.75" r="2.12"/>
<circle class="dot" cx="268.75" cy="690.75" r="2.12"/>
<circle class="dot" cx="265.5" cy="710.5" r="2.12"/>
<circle class="dot" cx="284.25" cy="628.25" r="2.12"/>
<circle class="dot" cx="282.5" cy="632.5" r="2.12"/>
<circle class="dot" cx="280.5" cy="635" r="2.12"/>
<circle class="dot" cx="280" cy="642.5" r="2.12"/>
<circle class="dot" cx="285" cy="642.5" r="2.12"/>
<circle class="dot" cx="278.75" cy="646.25" r="2.12"/>
<circle class="dot" cx="282.5" cy="646.25" r="2.12"/>
<circle class="dot" cx="286.25" cy="646.25" r="2.12"/>
<circle class="dot" cx="282.5" cy="648.75" r="2.12"/>
<circle class="dot" cx="284.25" cy="662.5" r="2.12"/>
<circle class="dot" cx="282" cy="667" r="2.12"/>
<circle class="dot" cx="299.25" cy="662.5" r="2.12"/>
<circle class="dot" cx="297.5" cy="719.25" r="2.12"/>
<circle class="dot" cx="301.25" cy="720" r="2.12"/>
<circle class="dot" cx="296.25" cy="722.5" r="2.12"/>
<circle class="dot" cx="300" cy="723.75" r="2.12"/>
<circle class="dot" cx="302.5" cy="724.5" r="2.12"/>
<circle class="dot" cx="298.75" cy="726.25" r="2.12"/>
</g>
<g id="B7" class="b">
<text class="ti" x="416.25" y="598.75">Olfr690</text>
<text class="yl" transform="translate(353 676.25) rotate(-90)" y="2.8">Relative to GAPDH</text>
<path class="bar" d="M390.62 728.75 V658.25 M400.88 728.75 V658.25"/>
<path class="bar" d="M390.62 648.85 V647 H400.88 V648.85"/>
<path class="bar" d="M408.12 728.75 V703 H418.38 V728.75"/>
<path class="bar" d="M425.62 728.75 V713.25 H435.88 V728.75"/>
<path class="bar" d="M443.62 728.75 V658.25 M453.88 728.75 V658.25"/>
<path class="bar" d="M443.02 648.25 H454.48"/>
<path class="bar" d="M461.12 728.75 V683.25 H471.38 V728.75"/>
<path class="bar" d="M478.62 728.75 V658.25 M488.88 728.75 V658.25"/>
<path class="bar" d="M478.62 648.85 V647.5 H488.88 V648.85"/>
<path d="M390.6 706.6 H400.9" fill="none" stroke="#000" stroke-width="1.4"/>
<path class="err" d="M413.5 694.5 V703 M410.73 694.5 H416.27 M410.73 703.5 H416.27"/>
<path class="err" d="M430.5 710 V713.25 M427.73 710.5 H433.27 M427.73 713.5 H433.27"/>
<path class="err2" d="M448.5 658.25 V665.5 M445.73 665.5 H451.27"/>
<path class="err" d="M466.5 676.25 V690 M463.73 676.5 H469.27 M463.73 690.5 H469.27"/>
<path class="ax" d="M384.25 599.35 V648.25 M384.25 658.25 V728.75 M378.15 600 H384.25 M378.15 612.5 H384.25 M378.15 624.5 H384.25 M378.15 636.75 H384.25 M379.85 672.5 H384.25 M379.85 686.75 H384.25 M379.85 700.75 H384.25 M379.85 715 H384.25 M379.85 728.75 H384.25 M380.95 648.25 H387.55 M380.95 658.25 H387.55 M379.85 728.75 H495.75 M395.75 728.75 V733.75 M413.25 728.75 V733.75 M430.75 728.75 V733.75 M448.75 728.75 V733.75 M466.25 728.75 V733.75 M483.75 728.75 V733.75"/>
<text class="tl" style="font-size:7.9px" x="374.35" y="603.08">8</text>
<text class="tl" style="font-size:7.9px" x="374.35" y="615.58">6</text>
<text class="tl" style="font-size:7.9px" x="374.35" y="627.58">4</text>
<text class="tl" style="font-size:7.9px" x="374.35" y="639.83">2</text>
<text class="tl" style="font-size:7.9px" x="379.15" y="661.93">0.05</text>
<text class="tl" style="font-size:7.9px" x="379.15" y="675.58">0.04</text>
<text class="tl" style="font-size:7.9px" x="379.15" y="689.83">0.03</text>
<text class="tl" style="font-size:7.9px" x="379.15" y="703.83">0.02</text>
<text class="tl" style="font-size:7.9px" x="379.15" y="718.08">0.01</text>
<text class="tl" style="font-size:7.9px" x="379.15" y="731.83">0.00</text>
<text class="xl" transform="translate(396.85 740.25) rotate(-45)">Mock</text>
<text class="xl" transform="translate(414.35 740.25) rotate(-45)">2dpi</text>
<text class="xl" transform="translate(431.85 740.25) rotate(-45)">6dpi</text>
<text class="xl" transform="translate(449.85 740.25) rotate(-45)">12 dpi</text>
<text class="xl" transform="translate(467.35 740.25) rotate(-45)">22 dpi</text>
<text class="xl" transform="translate(484.85 740.25) rotate(-45)">40 dpi</text>
<path class="sig" d="M394.25 614.5 H428.25"/>
<text class="st" style="font-size:7.4px;letter-spacing:0.6px" x="400.34" y="614.35">*</text>
<path class="sig" d="M394.25 621.5 H411.25"/>
<text class="st" style="font-size:7.4px;letter-spacing:0.6px" x="400.34" y="619.8">**</text>
<circle class="dot" cx="392.5" cy="647.8" r="2.12"/>
<circle class="dot" cx="399.5" cy="647.8" r="2.12"/>
<circle class="dot" cx="395" cy="630" r="2.12"/>
<circle class="dot" cx="397" cy="629.25" r="2.12"/>
<circle class="dot" cx="397.5" cy="641.75" r="2.12"/>
<circle class="dot" cx="392.5" cy="646.25" r="2.12"/>
<circle class="dot" cx="395.75" cy="647" r="2.12"/>
<circle class="dot" cx="399.25" cy="647" r="2.12"/>
<circle class="dot" cx="395.75" cy="648.75" r="2.12"/>
<circle class="dot" cx="395.75" cy="694.5" r="2.12"/>
<circle class="dot" cx="393.75" cy="702.5" r="2.12"/>
<circle class="dot" cx="397.5" cy="703.25" r="2.12"/>
<circle class="dot" cx="392.5" cy="706.25" r="2.12"/>
<circle class="dot" cx="398.75" cy="707" r="2.12"/>
<circle class="dot" cx="395.75" cy="708.75" r="2.12"/>
<circle class="dot" cx="393.75" cy="712" r="2.12"/>
<circle class="dot" cx="398" cy="712.5" r="2.12"/>
<circle class="dot" cx="413.25" cy="648.25" r="2.12"/>
<circle class="dot" cx="411.25" cy="702.5" r="2.12"/>
<circle class="dot" cx="415" cy="703.25" r="2.12"/>
<circle class="dot" cx="410" cy="707.5" r="2.12"/>
<circle class="dot" cx="416.25" cy="708.75" r="2.12"/>
<circle class="dot" cx="412.5" cy="711.25" r="2.12"/>
<circle class="dot" cx="411.25" cy="717" r="2.12"/>
<circle class="dot" cx="416.25" cy="717.5" r="2.12"/>
<circle class="dot" cx="430.75" cy="701.25" r="2.12"/>
<circle class="dot" cx="430.75" cy="708" r="2.12"/>
<circle class="dot" cx="428.75" cy="713.75" r="2.12"/>
<circle class="dot" cx="432.5" cy="714.5" r="2.12"/>
<circle class="dot" cx="430" cy="718.25" r="2.12"/>
<circle class="dot" cx="432.5" cy="718.75" r="2.12"/>
<circle class="dot" cx="445" cy="647.5" r="2.12"/>
<circle class="dot" cx="447.5" cy="648.25" r="2.12"/>
<circle class="dot" cx="450" cy="648.25" r="2.12"/>
<circle class="dot" cx="452.5" cy="648.25" r="2.12"/>
<circle class="dot" cx="448.75" cy="675.5" r="2.12"/>
<circle class="dot" cx="449.5" cy="691.75" r="2.12"/>
<circle class="dot" cx="447.5" cy="695.5" r="2.12"/>
<circle class="dot" cx="466.25" cy="648.25" r="2.12"/>
<circle class="dot" cx="466.25" cy="670.5" r="2.12"/>
<circle class="dot" cx="466.25" cy="679.25" r="2.12"/>
<circle class="dot" cx="463.25" cy="688.75" r="2.12"/>
<circle class="dot" cx="468.75" cy="687.5" r="2.12"/>
<circle class="dot" cx="465" cy="695" r="2.12"/>
<circle class="dot" cx="469.5" cy="695" r="2.12"/>
<circle class="dot" cx="466.25" cy="704.25" r="2.12"/>
<circle class="dot" cx="481.25" cy="643.75" r="2.12"/>
<circle class="dot" cx="480" cy="647" r="2.12"/>
<circle class="dot" cx="483.75" cy="648" r="2.12"/>
<circle class="dot" cx="487.5" cy="647.5" r="2.12"/>
<circle class="dot" cx="485" cy="650" r="2.12"/>
<circle class="dot" cx="483.75" cy="658.75" r="2.12"/>
</g>
<g id="B8" class="b">
<text class="ti" x="589.25" y="598.25">Olfr1377</text>
<text class="yl" transform="translate(527.5 680) rotate(-90)" y="2.8">Relative to GAPDH</text>
<path class="bar" d="M566.12 731.25 V661.25 M576.38 731.25 V661.25"/>
<path class="bar" d="M566.12 652.35 V650.75 H576.38 V652.35"/>
<path class="bar" d="M583.62 731.25 V720.75 H593.88 V731.25"/>
<path class="bar" d="M601.62 731.25 V725 H611.88 V731.25"/>
<path class="bar" d="M619.12 731.25 V700 H629.38 V731.25"/>
<path class="bar" d="M636.88 731.25 V705 H647.12 V731.25"/>
<path class="bar" d="M654.88 731.25 V661.25 M665.12 731.25 V661.25"/>
<path class="bar" d="M654.27 651.75 H665.73"/>
<path class="err" d="M571.5 647.5 V650.75 M568.73 647.5 H574.27 M568.73 650.5 H574.27"/>
<path class="err" style="stroke:#666;stroke-width:1.2" d="M624.5 684.5 V715 M621.73 684.5 H627.27 M621.73 715.5 H627.27"/>
<path class="err" style="stroke:#666;stroke-width:1.2" d="M642.5 694.25 V705 M639.73 694.5 H645.27 M639.73 705.5 H645.27"/>
<path class="ax" d="M559.25 602.35 V651.75 M559.25 661.25 V731.25 M553.15 603 H559.25 M553.15 613 H559.25 M553.15 623 H559.25 M553.15 633.25 H559.25 M553.15 643.25 H559.25 M554.85 675.5 H559.25 M554.85 689.5 H559.25 M554.85 703.25 H559.25 M554.85 717.5 H559.25 M554.85 731.25 H559.25 M555.95 651.75 H562.55 M555.95 661.25 H562.55 M554.85 731.25 H670.75 M571.25 731.25 V736.25 M588.75 731.25 V736.25 M606.75 731.25 V736.25 M624.25 731.25 V736.25 M642 731.25 V736.25 M660 731.25 V736.25"/>
<text class="tl" style="font-size:8.3px" x="548.05" y="606.23">5</text>
<text class="tl" style="font-size:8.3px" x="548.05" y="616.23">4</text>
<text class="tl" style="font-size:8.3px" x="548.05" y="626.23">3</text>
<text class="tl" style="font-size:8.3px" x="548.05" y="636.48">2</text>
<text class="tl" style="font-size:8.3px" x="548.05" y="646.48">1</text>
<text class="tl" style="font-size:8.3px" x="553.75" y="665.08">0.10</text>
<text class="tl" style="font-size:8.3px" x="553.75" y="678.73">0.08</text>
<text class="tl" style="font-size:8.3px" x="553.75" y="692.73">0.06</text>
<text class="tl" style="font-size:8.3px" x="553.75" y="706.48">0.04</text>
<text class="tl" style="font-size:8.3px" x="553.75" y="720.73">0.02</text>
<text class="tl" style="font-size:8.3px" x="553.75" y="734.48">0.00</text>
<text class="xl" transform="translate(572.35 742.75) rotate(-45)">Mock</text>
<text class="xl" transform="translate(589.85 742.75) rotate(-45)">2dpi</text>
<text class="xl" transform="translate(607.85 742.75) rotate(-45)">6dpi</text>
<text class="xl" transform="translate(625.35 742.75) rotate(-45)">12 dpi</text>
<text class="xl" transform="translate(643.1 742.75) rotate(-45)">22 dpi</text>
<text class="xl" transform="translate(661.1 742.75) rotate(-45)">40 dpi</text>
<circle class="dot" cx="569.5" cy="716.8" r="2.12"/>
<circle class="dot" cx="567.7" cy="721.4" r="2.12"/>
<circle class="dot" cx="575.1" cy="722.4" r="2.12"/>
<circle class="dot" cx="571.4" cy="726.1" r="2.12"/>
<circle class="dot" cx="567.7" cy="728" r="2.12"/>
<circle class="dot" cx="573.2" cy="728" r="2.12"/>
<circle class="dot" cx="586.2" cy="720.5" r="2.12"/>
<circle class="dot" cx="591.8" cy="721.4" r="2.12"/>
<circle class="dot" cx="587.2" cy="724.2" r="2.12"/>
<circle class="dot" cx="592.8" cy="724.2" r="2.12"/>
<circle class="dot" cx="589" cy="727" r="2.12"/>
<circle class="dot" cx="603" cy="722.4" r="2.12"/>
<circle class="dot" cx="610.4" cy="720.9" r="2.12"/>
<circle class="dot" cx="607.6" cy="726.1" r="2.12"/>
<circle class="dot" cx="605.8" cy="728" r="2.12"/>
<circle class="dot" cx="569.5" cy="634.5" r="2.12"/>
<circle class="dot" cx="573.25" cy="637" r="2.12"/>
<circle class="dot" cx="571.25" cy="640" r="2.12"/>
<circle class="dot" cx="571.25" cy="649.5" r="2.12"/>
<circle class="dot" cx="571.25" cy="675.75" r="2.12"/>
<circle class="dot" cx="571.25" cy="690" r="2.12"/>
<circle class="dot" cx="569.5" cy="717" r="2.12"/>
<circle class="dot" cx="568.25" cy="722.5" r="2.12"/>
<circle class="dot" cx="571.25" cy="722" r="2.12"/>
<circle class="dot" cx="574.5" cy="723" r="2.12"/>
<circle class="dot" cx="570" cy="726.25" r="2.12"/>
<circle class="dot" cx="573.75" cy="727" r="2.12"/>
<circle class="dot" cx="588.75" cy="702.5" r="2.12"/>
<circle class="dot" cx="588.75" cy="718" r="2.12"/>
<circle class="dot" cx="585.75" cy="721.25" r="2.12"/>
<circle class="dot" cx="590" cy="722.5" r="2.12"/>
<circle class="dot" cx="592.5" cy="723" r="2.12"/>
<circle class="dot" cx="587.5" cy="726.25" r="2.12"/>
<circle class="dot" cx="591.25" cy="727.5" r="2.12"/>
<circle class="dot" cx="605" cy="720" r="2.12"/>
<circle class="dot" cx="610" cy="720.75" r="2.12"/>
<circle class="dot" cx="603.75" cy="723.75" r="2.12"/>
<circle class="dot" cx="607.5" cy="725" r="2.12"/>
<circle class="dot" cx="605" cy="727.5" r="2.12"/>
<circle class="dot" cx="609.5" cy="728" r="2.12"/>
<circle class="dot" cx="624.25" cy="651.25" r="2.12"/>
<circle class="dot" cx="622.5" cy="703.75" r="2.12"/>
<circle class="dot" cx="625" cy="708.75" r="2.12"/>
<circle class="dot" cx="622.5" cy="717" r="2.12"/>
<circle class="dot" cx="621.25" cy="721.25" r="2.12"/>
<circle class="dot" cx="627" cy="721.25" r="2.12"/>
<circle class="dot" cx="642" cy="651.25" r="2.12"/>
<circle class="dot" cx="643.75" cy="705" r="2.12"/>
<circle class="dot" cx="640" cy="707.5" r="2.12"/>
<circle class="dot" cx="645" cy="710" r="2.12"/>
<circle class="dot" cx="641.25" cy="713.75" r="2.12"/>
<circle class="dot" cx="643.75" cy="717" r="2.12"/>
<circle class="dot" cx="640" cy="722.5" r="2.12"/>
<circle class="dot" cx="644.5" cy="722.5" r="2.12"/>
<circle class="dot" cx="659.5" cy="646.25" r="2.12"/>
<circle class="dot" cx="656.25" cy="650.75" r="2.12"/>
<circle class="dot" cx="660" cy="652" r="2.12"/>
<circle class="dot" cx="663.25" cy="651.25" r="2.12"/>
<circle class="dot" cx="659.5" cy="697" r="2.12"/>
<circle class="dot" cx="657.5" cy="711.75" r="2.12"/>
<circle class="dot" cx="661.25" cy="709.5" r="2.12"/>
</g>
<g id="B9" class="b">
<text class="ti" x="95.75" y="785.25">Olfr983</text>
<text class="yl" transform="translate(18 857) rotate(-90)" y="2.8">Relative to GAPDH</text>
<path class="bar" d="M56.88 913.38 V842.5 M67.12 913.38 V842.5"/>
<path class="bar" d="M56.88 833.6 V831.75 H67.12 V833.6"/>
<path class="bar" d="M74.88 913.38 V887.5 H85.12 V913.38"/>
<path class="bar" d="M92.38 913.38 V888.75 H102.62 V913.38"/>
<path class="bar" d="M109.88 913.38 V842.5 M120.12 913.38 V842.5"/>
<path class="bar" style="stroke:#777;stroke-width:1.1" d="M109.28 833 H120.72"/>
<path class="bar" d="M127.38 913.38 V854.5 H137.62 V913.38"/>
<path class="bar" d="M145.38 913.38 V842.5 M155.62 913.38 V842.5"/>
<path class="bar" d="M145.38 833.6 V832.5 H155.62 V833.6"/>
<path d="M57 889.1 H67" fill="none" stroke="#000" stroke-width="1.4"/>
<path class="err" d="M80.5 879.5 V887.5 M77.73 879.5 H83.27 M77.73 887.5 H83.27"/>
<path class="err" d="M97.5 883 V888.75 M94.73 883.5 H100.27 M94.73 888.5 H100.27"/>
<path class="err2" d="M115.5 842.5 V865 M112.73 865.5 H118.27"/>
<path class="err2" d="M132.5 842.5 V866.25 M129.73 866.5 H135.27"/>
<path class="err2" d="M150.5 842.5 V846.25 M147.73 846.5 H153.27"/>
<path class="ax" d="M50.75 782.35 V833 M50.75 842.5 V913.38 M44.65 783 H50.75 M44.65 793.25 H50.75 M44.65 803.25 H50.75 M44.65 813.25 H50.75 M44.65 823.25 H50.75 M46.35 856.75 H50.75 M46.35 870.75 H50.75 M46.35 885 H50.75 M46.35 899.25 H50.75 M46.35 913.38 H50.75 M47.45 833 H54.05 M47.45 842.5 H54.05 M46.35 913.38 H162 M62 913.38 V918.38 M80 913.38 V918.38 M97.5 913.38 V918.38 M115 913.38 V918.38 M132.5 913.38 V918.38 M150.5 913.38 V918.38"/>
<text class="tl" style="font-size:8.4px" x="41.95" y="786.27">5</text>
<text class="tl" style="font-size:8.4px" x="41.95" y="796.52">4</text>
<text class="tl" style="font-size:8.4px" x="41.95" y="806.52">3</text>
<text class="tl" style="font-size:8.4px" x="41.95" y="816.52">2</text>
<text class="tl" style="font-size:8.4px" x="41.95" y="826.52">1</text>
<text class="tl" style="font-size:8.4px" x="43.55" y="846.37">0.05</text>
<text class="tl" style="font-size:8.4px" x="43.55" y="860.02">0.04</text>
<text class="tl" style="font-size:8.4px" x="43.55" y="874.02">0.03</text>
<text class="tl" style="font-size:8.4px" x="43.55" y="888.27">0.02</text>
<text class="tl" style="font-size:8.4px" x="43.55" y="902.52">0.01</text>
<text class="tl" style="font-size:8.4px" x="43.55" y="916.65">0.00</text>
<text class="xl" transform="translate(63.1 924.88) rotate(-45)">Mock</text>
<text class="xl" transform="translate(81.1 924.88) rotate(-45)">2dpi</text>
<text class="xl" transform="translate(98.6 924.88) rotate(-45)">6dpi</text>
<text class="xl" transform="translate(116.1 924.88) rotate(-45)">12 dpi</text>
<text class="xl" transform="translate(133.6 924.88) rotate(-45)">22 dpi</text>
<text class="xl" transform="translate(151.6 924.88) rotate(-45)">40 dpi</text>
<path class="sig" d="M61.75 808.5 H78.25"/>
<text class="st" style="font-size:7.4px;letter-spacing:0.6px" x="67.09" y="807.1">**</text>
<circle class="dot" cx="62" cy="813.75" r="2.12"/>
<circle class="dot" cx="62" cy="821.75" r="2.12"/>
<circle class="dot" cx="63.75" cy="826.25" r="2.12"/>
<circle class="dot" cx="60" cy="830" r="2.12"/>
<circle class="dot" cx="63.75" cy="830.75" r="2.12"/>
<circle class="dot" cx="58.75" cy="831.75" r="2.12"/>
<circle class="dot" cx="62" cy="833" r="2.12"/>
<circle class="dot" cx="66.25" cy="832" r="2.12"/>
<circle class="dot" cx="62" cy="880.75" r="2.12"/>
<circle class="dot" cx="60" cy="888.75" r="2.12"/>
<circle class="dot" cx="65" cy="889.25" r="2.12"/>
<circle class="dot" cx="62" cy="891.25" r="2.12"/>
<circle class="dot" cx="62.5" cy="895" r="2.12"/>
<circle class="dot" cx="60" cy="904.25" r="2.12"/>
<circle class="dot" cx="63.75" cy="904.5" r="2.12"/>
<circle class="dot" cx="80" cy="833" r="2.12"/>
<circle class="dot" cx="80" cy="868" r="2.12"/>
<circle class="dot" cx="78.75" cy="890" r="2.12"/>
<circle class="dot" cx="82" cy="890.5" r="2.12"/>
<circle class="dot" cx="80" cy="897" r="2.12"/>
<circle class="dot" cx="77.5" cy="901.25" r="2.12"/>
<circle class="dot" cx="82.5" cy="901.75" r="2.12"/>
<circle class="dot" cx="97.5" cy="863.75" r="2.12"/>
<circle class="dot" cx="97.5" cy="878" r="2.12"/>
<circle class="dot" cx="95" cy="888" r="2.12"/>
<circle class="dot" cx="100" cy="888.75" r="2.12"/>
<circle class="dot" cx="96.25" cy="895" r="2.12"/>
<circle class="dot" cx="100.75" cy="896.25" r="2.12"/>
<circle class="dot" cx="97.5" cy="905.5" r="2.12"/>
<circle class="dot" cx="115" cy="828.25" r="2.12"/>
<circle class="dot" cx="115" cy="833" r="2.12"/>
<circle class="dot" cx="111.25" cy="849.5" r="2.12"/>
<circle class="dot" cx="118.75" cy="849.5" r="2.12"/>
<circle class="dot" cx="115" cy="868.75" r="2.12"/>
<circle class="dot" cx="115" cy="880.75" r="2.12"/>
<circle class="dot" cx="111.25" cy="892.5" r="2.12"/>
<circle class="dot" cx="118.75" cy="892.5" r="2.12"/>
<circle class="dot" cx="128.75" cy="833" r="2.12"/>
<circle class="dot" cx="132.5" cy="833" r="2.12"/>
<circle class="dot" cx="136.25" cy="833" r="2.12"/>
<circle class="dot" cx="130" cy="859.25" r="2.12"/>
<circle class="dot" cx="135" cy="860" r="2.12"/>
<circle class="dot" cx="136.25" cy="867" r="2.12"/>
<circle class="dot" cx="132.5" cy="869.5" r="2.12"/>
<circle class="dot" cx="129.5" cy="880.75" r="2.12"/>
<circle class="dot" cx="136.25" cy="882.5" r="2.12"/>
<circle class="dot" cx="132.5" cy="887.5" r="2.12"/>
<circle class="dot" cx="132.5" cy="891.25" r="2.12"/>
<circle class="dot" cx="146.75" cy="832" r="2.12"/>
<circle class="dot" cx="150.5" cy="830.5" r="2.12"/>
<circle class="dot" cx="153.75" cy="833" r="2.12"/>
<circle class="dot" cx="153.75" cy="871.75" r="2.12"/>
<circle class="dot" cx="150" cy="875.75" r="2.12"/>
<circle class="dot" cx="152" cy="883.75" r="2.12"/>
<circle class="dot" cx="148" cy="886.75" r="2.12"/>
</g>
</svg>
</body></html>
